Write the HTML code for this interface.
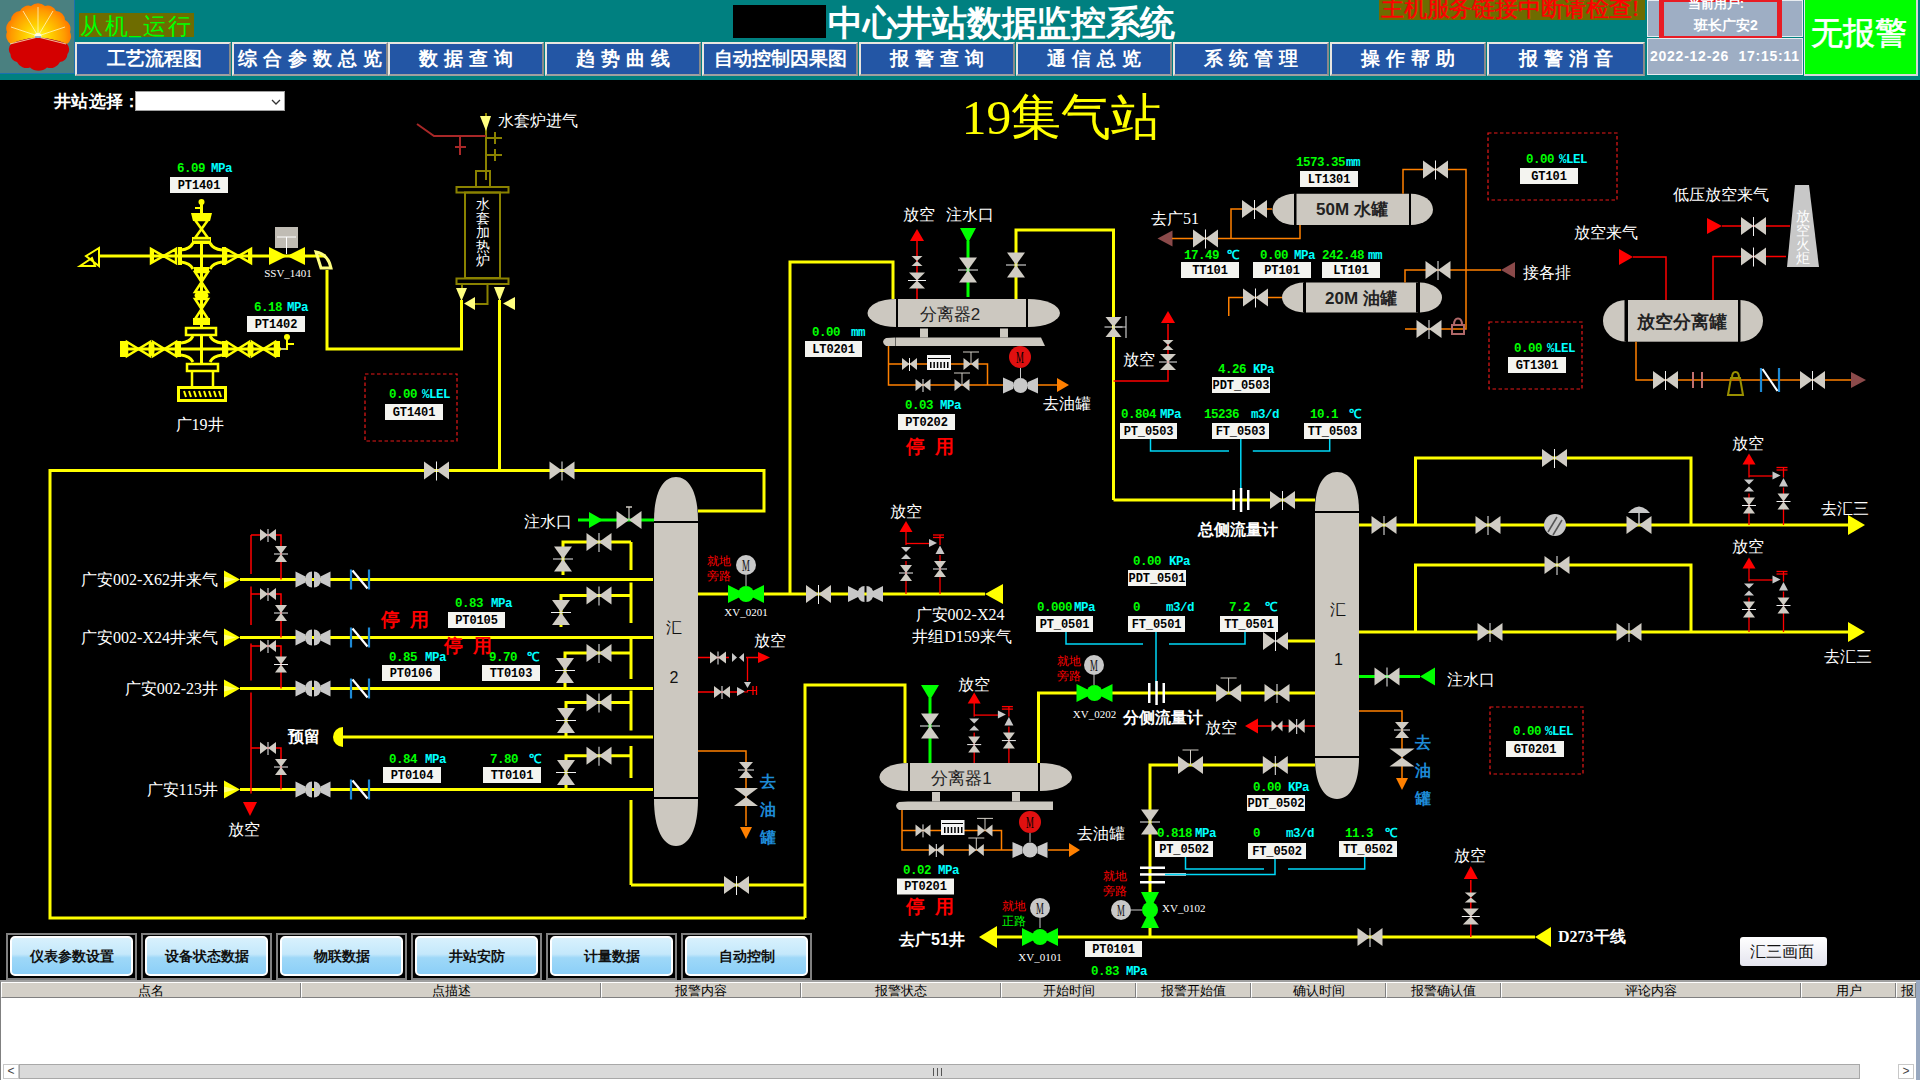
<!DOCTYPE html>
<html><head><meta charset="utf-8">
<style>
*{margin:0;padding:0;box-sizing:border-box}
html,body{width:1920px;height:1080px;overflow:hidden;background:#000;font-family:"Liberation Sans",sans-serif}
.a{position:absolute}
#hdr{left:0;top:0;width:1920px;height:80px;background:#008080}
#logo{left:0;top:0;width:75px;height:74px;background:#4a8080;border-right:1px solid #1a70b0;border-bottom:1px solid #1a70b0}
.nav{top:42px;height:34px;width:156px;background:#2356a5;border-top:2px solid #e8e6e0;border-left:2px solid #e8e6e0;border-right:2px solid #8a8a8a;border-bottom:2px solid #a0a0a0;color:#fff;font-weight:bold;font-size:19px;text-align:center;line-height:29px;white-space:nowrap;overflow:hidden}
.bb{top:933px;width:131px;height:47px;border:2px solid #808080;background:#000}
.bb div{position:absolute;left:2px;top:1px;right:2px;bottom:2px;border:2px solid #fff;border-radius:5px;background:linear-gradient(#d8f1fd 0%,#c4e8fb 45%,#9ed8f8 55%,#8ccff7 100%);color:#111;font-weight:bold;font-size:14px;text-align:center;line-height:37px}
#tbl{left:0;top:980px;width:1917px;height:100px;background:#fff;border-top:2px solid #a0a0a0;border-left:1px solid #808080}
.th{top:1px;height:15px;background:#d4d0c8;border-left:1px solid #fff;border-right:1px solid #808080;border-bottom:1px solid #808080;font-size:13px;color:#000;text-align:center;line-height:15px;white-space:nowrap;overflow:hidden}
</style></head><body>
<div id="hdr" class="a"></div>
<div id="logo" class="a">
<svg width="75" height="74" viewBox="0 0 75 74">
<defs><radialGradient id="lg" cx="38" cy="37" r="36" gradientUnits="userSpaceOnUse"><stop offset="0" stop-color="#ffff30"/><stop offset="0.35" stop-color="#ffd000"/><stop offset="0.75" stop-color="#ff9a00"/><stop offset="1" stop-color="#ff6a00"/></radialGradient></defs>
<path d="M11 44 A9.5 9.5 0 0 1 7 32 A9.5 9.5 0 0 1 11 20 A9.5 9.5 0 0 1 20 11 A9.1 9.1 0 0 1 31 6 A10.5 10.5 0 0 1 45 6 A9.1 9.1 0 0 1 56 11 A9.5 9.5 0 0 1 65 20 A9.8 9.8 0 0 1 70 32 A9.3 9.3 0 0 1 67 44 Q52 38 38 37.5 Q24 38 11 44 Z" fill="url(#lg)"/>
<path d="M11 44 Q24 38 38 37.5 Q52 38 67 44 A7.5 7.5 0 0 1 67.5 54 A8.2 8.2 0 0 1 60 62 A10.6 10.6 0 0 1 47 67.5 A12.8 12.8 0 0 1 30 67.5 A10.6 10.6 0 0 1 17 62 A7.7 7.7 0 0 1 10.5 54 A7.5 7.5 0 0 1 11 44 Z" fill="#d40000"/>
<g stroke="#fff8c8" stroke-width="0.9" opacity="0.85"><line x1="38" y1="36" x2="38" y2="7"/><line x1="38" y1="36" x2="23" y2="11"/><line x1="38" y1="36" x2="53" y2="11"/><line x1="38" y1="36" x2="11" y2="27"/><line x1="38" y1="36" x2="65" y2="27"/><line x1="36" y1="37.5" x2="10" y2="44"/><line x1="40" y1="37.5" x2="66" y2="44"/></g>
<ellipse cx="38" cy="35.5" rx="3.5" ry="2.5" fill="#fffce0"/>
<path d="M35 37 L41 37" stroke="#3070c0" stroke-width="1"/>
</svg></div>
<div class="a" style="left:79px;top:13px;width:115px;height:24px;background:#6e6c00;color:#00ff00;font-size:23px;line-height:24px;white-space:nowrap;font-family:'Liberation Serif',serif;letter-spacing:1.8px;padding-left:1px;padding-top:2px">从机_运行</div>
<div class="a" style="left:733px;top:5px;width:93px;height:33px;background:#000"></div>
<div class="a" style="left:828px;top:1px;color:#fff;font-weight:bold;font-size:35px;line-height:44px;white-space:nowrap;letter-spacing:-0.3px">中心井站数据监控系统</div>
<div class="a" style="left:1379px;top:0;width:266px;height:19.5px;background:#6e6c00;color:#ff0000;font-size:22.5px;line-height:17px;white-space:nowrap;overflow:hidden;font-family:'Liberation Serif',serif;font-weight:normal;-webkit-text-stroke:0.4px #ff0000;letter-spacing:-0.2px;padding-left:2px">主机服务链接中断请检查!</div>
<div class="nav a" style="left:75px;padding-left:2px">工艺流程图</div>
<div class="nav a" style="left:232px;letter-spacing:6px;padding-left:4px">综合参数总览</div>
<div class="nav a" style="left:388px;letter-spacing:6px;padding-left:6px">数据查询</div>
<div class="nav a" style="left:545px;letter-spacing:6px;padding-left:6px">趋势曲线</div>
<div class="nav a" style="left:702px">自动控制因果图</div>
<div class="nav a" style="left:859px;letter-spacing:6px;padding-left:6px">报警查询</div>
<div class="nav a" style="left:1016px;letter-spacing:6px;padding-left:6px">通信总览</div>
<div class="nav a" style="left:1173px;letter-spacing:6px;padding-left:6px">系统管理</div>
<div class="nav a" style="left:1330px;letter-spacing:6px;padding-left:6px">操作帮助</div>
<div class="nav a" style="left:1487px;letter-spacing:6px;width:158px;padding-left:6px">报警消音</div>
<div class="a" style="left:1647px;top:0;width:156px;height:37px;background:#9eaec4;border:1px solid #e8ecf0"></div>
<div class="a" style="left:1659px;top:-3px;width:123px;height:44px;border:5px solid #e81c24"></div>
<div class="a" style="left:1664px;top:-4px;width:112px;color:#fff;font-weight:bold;font-size:13px;line-height:15px;text-align:center;white-space:nowrap;padding-right:8px">当前用户:</div>
<div class="a" style="left:1664px;top:17px;width:112px;color:#fff;font-weight:bold;font-size:14px;line-height:16px;text-align:center;white-space:nowrap;padding-left:12px">班长广安2</div>
<div class="a" style="left:1647px;top:38px;width:156px;height:37px;background:#9eaec4;border:1px solid #e8ecf0;color:#fff;font-weight:bold;font-size:14px;line-height:35px;text-align:left;padding-left:2px;white-space:nowrap;letter-spacing:0.75px">2022-12-26&nbsp;&nbsp;17:15:11</div>
<div class="a" style="left:1804px;top:0;width:114px;height:76px;background:#00ff00;border:2px solid #d8d8d8;border-top:none;border-left:1px solid #e8e8e8;color:#fff;font-weight:normal;-webkit-text-stroke:0.6px #fff;font-size:32px;line-height:66px;text-align:center;white-space:nowrap;padding-right:4px">无报警</div>

<!-- station select -->
<div class="a" style="left:54px;top:91px;color:#fff;font-weight:bold;font-size:17px;line-height:21px;white-space:nowrap;letter-spacing:0.3px">井站选择：</div>
<div class="a" style="left:135px;top:91px;width:150px;height:20px;background:#fff;border:1px solid #a0a0a0"><svg class="a" style="left:135px;top:7px" width="10" height="6"><path d="M1 1 L5 5 L9 1" stroke="#333" fill="none" stroke-width="1.3"/></svg></div>

<svg id="dg" class="a" style="left:0;top:0" width="1920" height="1080" viewBox="0 0 1920 1080" font-family="Liberation Sans, sans-serif">
<polyline points="805,918 50,918 50,470.5 764,470.5 764,511 698,511" fill="none" stroke="#ffff00" stroke-width="3" stroke-linejoin="miter" />
<line x1="499.5" y1="470.5" x2="499.5" y2="300" stroke="#ffff00" stroke-width="3"/>
<polygon points="424,461.5 424,479.5 436.5,470.5" fill="#d0ccc4"/>
<polygon points="449,461.5 449,479.5 436.5,470.5" fill="#d0ccc4"/>
<line x1="436.5" y1="461.5" x2="436.5" y2="480.5" stroke="#f0f0f0" stroke-width="1"/>
<polygon points="549.5,461.5 549.5,479.5 562,470.5" fill="#d0ccc4"/>
<polygon points="574.5,461.5 574.5,479.5 562,470.5" fill="#d0ccc4"/>
<line x1="562" y1="461.5" x2="562" y2="480.5" stroke="#f0f0f0" stroke-width="1"/>
<text x="218" y="585" font-size="16" fill="#ffffff" font-weight="normal" text-anchor="end" font-family="Liberation Serif" >广安002-X62井来气</text>
<polygon points="224,570.5 224,588.5 240,579.5" fill="#ffff00"/>
<polygon points="224,576.5 224,582.5 236,579.5" fill="#ffff80"/>
<line x1="240" y1="579.5" x2="653" y2="579.5" stroke="#ffff00" stroke-width="3"/>
<polygon points="295.5,571.5 295.5,587.5 305.5,582.5 305.5,576.5" fill="#c8c8c8"/>
<polygon points="330.5,571.5 330.5,587.5 320.5,582.5 320.5,576.5" fill="#c8c8c8"/>
<path d="M312 571.5 A7 8 0 0 0 312 587.5 Z" fill="#c8c8c8"/>
<path d="M314 571.5 A7 8 0 0 1 314 587.5 Z" fill="#c8c8c8"/>
<line x1="351" y1="569.5" x2="351" y2="589.5" stroke="#1e8ad6" stroke-width="2.2"/>
<line x1="369" y1="569.5" x2="369" y2="589.5" stroke="#1e8ad6" stroke-width="2.2"/>
<line x1="352.5" y1="570.5" x2="367.5" y2="588.5" stroke="#ffffff" stroke-width="2.2"/>
<text x="218" y="643" font-size="16" fill="#ffffff" font-weight="normal" text-anchor="end" font-family="Liberation Serif" >广安002-X24井来气</text>
<polygon points="224,628.5 224,646.5 240,637.5" fill="#ffff00"/>
<polygon points="224,634.5 224,640.5 236,637.5" fill="#ffff80"/>
<line x1="240" y1="637.5" x2="653" y2="637.5" stroke="#ffff00" stroke-width="3"/>
<polygon points="295.5,629.5 295.5,645.5 305.5,640.5 305.5,634.5" fill="#c8c8c8"/>
<polygon points="330.5,629.5 330.5,645.5 320.5,640.5 320.5,634.5" fill="#c8c8c8"/>
<path d="M312 629.5 A7 8 0 0 0 312 645.5 Z" fill="#c8c8c8"/>
<path d="M314 629.5 A7 8 0 0 1 314 645.5 Z" fill="#c8c8c8"/>
<line x1="351" y1="627.5" x2="351" y2="647.5" stroke="#1e8ad6" stroke-width="2.2"/>
<line x1="369" y1="627.5" x2="369" y2="647.5" stroke="#1e8ad6" stroke-width="2.2"/>
<line x1="352.5" y1="628.5" x2="367.5" y2="646.5" stroke="#ffffff" stroke-width="2.2"/>
<text x="218" y="694" font-size="16" fill="#ffffff" font-weight="normal" text-anchor="end" font-family="Liberation Serif" >广安002-23井</text>
<polygon points="224,679.5 224,697.5 240,688.5" fill="#ffff00"/>
<polygon points="224,685.5 224,691.5 236,688.5" fill="#ffff80"/>
<line x1="240" y1="688.5" x2="653" y2="688.5" stroke="#ffff00" stroke-width="3"/>
<polygon points="295.5,680.5 295.5,696.5 305.5,691.5 305.5,685.5" fill="#c8c8c8"/>
<polygon points="330.5,680.5 330.5,696.5 320.5,691.5 320.5,685.5" fill="#c8c8c8"/>
<path d="M312 680.5 A7 8 0 0 0 312 696.5 Z" fill="#c8c8c8"/>
<path d="M314 680.5 A7 8 0 0 1 314 696.5 Z" fill="#c8c8c8"/>
<line x1="351" y1="678.5" x2="351" y2="698.5" stroke="#1e8ad6" stroke-width="2.2"/>
<line x1="369" y1="678.5" x2="369" y2="698.5" stroke="#1e8ad6" stroke-width="2.2"/>
<line x1="352.5" y1="679.5" x2="367.5" y2="697.5" stroke="#ffffff" stroke-width="2.2"/>
<text x="218" y="795" font-size="16" fill="#ffffff" font-weight="normal" text-anchor="end" font-family="Liberation Serif" >广安115井</text>
<polygon points="224,780.5 224,798.5 240,789.5" fill="#ffff00"/>
<polygon points="224,786.5 224,792.5 236,789.5" fill="#ffff80"/>
<line x1="240" y1="789.5" x2="653" y2="789.5" stroke="#ffff00" stroke-width="3"/>
<polygon points="295.5,781.5 295.5,797.5 305.5,792.5 305.5,786.5" fill="#c8c8c8"/>
<polygon points="330.5,781.5 330.5,797.5 320.5,792.5 320.5,786.5" fill="#c8c8c8"/>
<path d="M312 781.5 A7 8 0 0 0 312 797.5 Z" fill="#c8c8c8"/>
<path d="M314 781.5 A7 8 0 0 1 314 797.5 Z" fill="#c8c8c8"/>
<line x1="351" y1="779.5" x2="351" y2="799.5" stroke="#1e8ad6" stroke-width="2.2"/>
<line x1="369" y1="779.5" x2="369" y2="799.5" stroke="#1e8ad6" stroke-width="2.2"/>
<line x1="352.5" y1="780.5" x2="367.5" y2="798.5" stroke="#ffffff" stroke-width="2.2"/>
<line x1="251" y1="535" x2="251" y2="574" stroke="#ff0000" stroke-width="1.5"/>
<polyline points="251,535 281,535 281,579.5" fill="none" stroke="#ff0000" stroke-width="1.5" stroke-linejoin="miter" />
<polygon points="260,529 260,541 268,535" fill="#d0ccc4"/>
<polygon points="276,529 276,541 268,535" fill="#d0ccc4"/>
<line x1="268" y1="529" x2="268" y2="542" stroke="#f0f0f0" stroke-width="1"/>
<polygon points="275,546 287,546 281,554" fill="#d0ccc4"/>
<polygon points="275,562 287,562 281,554" fill="#d0ccc4"/>
<line x1="274" y1="554" x2="288" y2="554" stroke="#f0f0f0" stroke-width="1"/>
<line x1="251" y1="586.5" x2="251" y2="625" stroke="#ff0000" stroke-width="1.5"/>
<polyline points="251,594 281,594 281,637.5" fill="none" stroke="#ff0000" stroke-width="1.5" stroke-linejoin="miter" />
<polygon points="260,588 260,600 268,594" fill="#d0ccc4"/>
<polygon points="276,588 276,600 268,594" fill="#d0ccc4"/>
<line x1="268" y1="588" x2="268" y2="601" stroke="#f0f0f0" stroke-width="1"/>
<polygon points="275,605 287,605 281,613" fill="#d0ccc4"/>
<polygon points="275,621 287,621 281,613" fill="#d0ccc4"/>
<line x1="274" y1="613" x2="288" y2="613" stroke="#f0f0f0" stroke-width="1"/>
<line x1="251" y1="643.5" x2="251" y2="680.5" stroke="#ff0000" stroke-width="1.5"/>
<polyline points="251,646 281,646 281,688.5" fill="none" stroke="#ff0000" stroke-width="1.5" stroke-linejoin="miter" />
<polygon points="260,640 260,652 268,646" fill="#d0ccc4"/>
<polygon points="276,640 276,652 268,646" fill="#d0ccc4"/>
<line x1="268" y1="640" x2="268" y2="653" stroke="#f0f0f0" stroke-width="1"/>
<polygon points="275,656.5 287,656.5 281,664.5" fill="#d0ccc4"/>
<polygon points="275,672.5 287,672.5 281,664.5" fill="#d0ccc4"/>
<line x1="274" y1="664.5" x2="288" y2="664.5" stroke="#f0f0f0" stroke-width="1"/>
<line x1="251" y1="692.5" x2="251" y2="793.5" stroke="#ff0000" stroke-width="1.5"/>
<polyline points="251,748 281,748 281,789.5" fill="none" stroke="#ff0000" stroke-width="1.5" stroke-linejoin="miter" />
<polygon points="260,742 260,754 268,748" fill="#d0ccc4"/>
<polygon points="276,742 276,754 268,748" fill="#d0ccc4"/>
<line x1="268" y1="742" x2="268" y2="755" stroke="#f0f0f0" stroke-width="1"/>
<polygon points="275,759 287,759 281,767" fill="#d0ccc4"/>
<polygon points="275,775 287,775 281,767" fill="#d0ccc4"/>
<line x1="274" y1="767" x2="288" y2="767" stroke="#f0f0f0" stroke-width="1"/>
<polygon points="250,816 243,802 257,802" fill="#ff0000"/>
<text x="244" y="834.5" font-size="16" fill="#ffffff" font-weight="normal" text-anchor="middle" font-family="Liberation Serif" >放空</text>
<text x="304" y="741.5" font-size="16" fill="#ffffff" font-weight="bold" text-anchor="middle" font-family="Liberation Serif" >预留</text>
<path d="M343 727 A10 10 0 0 0 343 747 Z" fill="#ffff00"/>
<line x1="343" y1="737" x2="653" y2="737" stroke="#ffff00" stroke-width="3"/>
<polyline points="563,575 563,542 631,542" fill="none" stroke="#ffff00" stroke-width="3" stroke-linejoin="miter" />
<line x1="631" y1="542" x2="631" y2="570" stroke="#ffff00" stroke-width="3"/>
<polygon points="554,546.5 572,546.5 563,559" fill="#d0ccc4"/>
<polygon points="554,571.5 572,571.5 563,559" fill="#d0ccc4"/>
<line x1="553" y1="559" x2="573" y2="559" stroke="#f0f0f0" stroke-width="1"/>
<polygon points="586.5,533 586.5,551 599,542" fill="#d0ccc4"/>
<polygon points="611.5,533 611.5,551 599,542" fill="#d0ccc4"/>
<line x1="599" y1="533" x2="599" y2="552" stroke="#f0f0f0" stroke-width="1"/>
<polyline points="561,627 561,595.5 631,595.5" fill="none" stroke="#ffff00" stroke-width="3" stroke-linejoin="miter" />
<line x1="631" y1="582.5" x2="631" y2="623" stroke="#ffff00" stroke-width="3"/>
<polygon points="552,600 570,600 561,612.5" fill="#d0ccc4"/>
<polygon points="552,625 570,625 561,612.5" fill="#d0ccc4"/>
<line x1="551" y1="612.5" x2="571" y2="612.5" stroke="#f0f0f0" stroke-width="1"/>
<polygon points="586.5,586.5 586.5,604.5 599,595.5" fill="#d0ccc4"/>
<polygon points="611.5,586.5 611.5,604.5 599,595.5" fill="#d0ccc4"/>
<line x1="599" y1="586.5" x2="599" y2="605.5" stroke="#f0f0f0" stroke-width="1"/>
<polyline points="565,688.5 565,653 631,653" fill="none" stroke="#ffff00" stroke-width="3" stroke-linejoin="miter" />
<line x1="631" y1="638" x2="631" y2="679" stroke="#ffff00" stroke-width="3"/>
<polygon points="556,658 574,658 565,670.5" fill="#d0ccc4"/>
<polygon points="556,683 574,683 565,670.5" fill="#d0ccc4"/>
<line x1="555" y1="670.5" x2="575" y2="670.5" stroke="#f0f0f0" stroke-width="1"/>
<polygon points="586.5,644 586.5,662 599,653" fill="#d0ccc4"/>
<polygon points="611.5,644 611.5,662 599,653" fill="#d0ccc4"/>
<line x1="599" y1="644" x2="599" y2="663" stroke="#f0f0f0" stroke-width="1"/>
<polyline points="566,737 566,702.5 631,702.5" fill="none" stroke="#ffff00" stroke-width="3" stroke-linejoin="miter" />
<line x1="631" y1="690.5" x2="631" y2="730.5" stroke="#ffff00" stroke-width="3"/>
<polygon points="557,708 575,708 566,720.5" fill="#d0ccc4"/>
<polygon points="557,733 575,733 566,720.5" fill="#d0ccc4"/>
<line x1="556" y1="720.5" x2="576" y2="720.5" stroke="#f0f0f0" stroke-width="1"/>
<polygon points="586.5,693.5 586.5,711.5 599,702.5" fill="#d0ccc4"/>
<polygon points="611.5,693.5 611.5,711.5 599,702.5" fill="#d0ccc4"/>
<line x1="599" y1="693.5" x2="599" y2="712.5" stroke="#f0f0f0" stroke-width="1"/>
<polyline points="566,789.5 566,755.75 631,755.75" fill="none" stroke="#ffff00" stroke-width="3" stroke-linejoin="miter" />
<line x1="631" y1="746" x2="631" y2="778" stroke="#ffff00" stroke-width="3"/>
<polygon points="557,760 575,760 566,772.5" fill="#d0ccc4"/>
<polygon points="557,785 575,785 566,772.5" fill="#d0ccc4"/>
<line x1="556" y1="772.5" x2="576" y2="772.5" stroke="#f0f0f0" stroke-width="1"/>
<polygon points="586.5,746.75 586.5,764.75 599,755.75" fill="#d0ccc4"/>
<polygon points="611.5,746.75 611.5,764.75 599,755.75" fill="#d0ccc4"/>
<line x1="599" y1="746.75" x2="599" y2="765.75" stroke="#f0f0f0" stroke-width="1"/>
<line x1="631" y1="800" x2="631" y2="885" stroke="#ffff00" stroke-width="3"/>
<polyline points="631,885 805,885" fill="none" stroke="#ffff00" stroke-width="3" stroke-linejoin="miter" />
<polygon points="724,876 724,894 736.5,885" fill="#d0ccc4"/>
<polygon points="749,876 749,894 736.5,885" fill="#d0ccc4"/>
<line x1="736.5" y1="876" x2="736.5" y2="895" stroke="#f0f0f0" stroke-width="1"/>
<polyline points="805,918 805,685 905,685 905,763" fill="none" stroke="#ffff00" stroke-width="3" stroke-linejoin="miter" />
<path d="M654 521 C654 492.4 662.8 477 676 477 C689.2 477 698 492.4 698 521 Z" fill="#ccc8c0"/>
<rect x="654" y="523" width="44" height="274" fill="#ccc8c0" />
<path d="M654 799 C654 828.85 662.8 846 676 846 C689.2 846 698 828.85 698 799 Z" fill="#ccc8c0"/>
<text x="674" y="633" font-size="16" fill="#111" font-weight="normal" text-anchor="middle" font-family="Liberation Sans" >汇</text>
<text x="674" y="683" font-size="16" fill="#111" font-weight="normal" text-anchor="middle" font-family="Liberation Sans" >2</text>
<text x="405" y="626" font-size="18.5" fill="#ff0000" font-weight="bold" text-anchor="middle" font-family="Liberation Sans" xml:space="preserve">停  用</text>
<text x="455" y="606.8" font-size="12.5" fill="#00ff00" font-weight="bold" text-anchor="start" font-family="Liberation Mono" letter-spacing="-0.5">0.83</text>
<text x="491" y="606.8" font-size="12.5" fill="#00ffff" font-weight="bold" text-anchor="start" font-family="Liberation Mono" letter-spacing="-0.5">MPa</text>
<rect x="448" y="612" width="57" height="16" fill="#f4f4f0" />
<text x="476.5" y="623.5" font-size="12" fill="#000" font-weight="bold" text-anchor="middle" font-family="Liberation Mono" letter-spacing="-0.1">PT0105</text>
<text x="389" y="660.8" font-size="12.5" fill="#00ff00" font-weight="bold" text-anchor="start" font-family="Liberation Mono" letter-spacing="-0.5">0.85</text>
<text x="425" y="660.8" font-size="12.5" fill="#00ffff" font-weight="bold" text-anchor="start" font-family="Liberation Mono" letter-spacing="-0.5">MPa</text>
<rect x="382" y="665" width="58" height="16" fill="#f4f4f0" />
<text x="411" y="676.5" font-size="12" fill="#000" font-weight="bold" text-anchor="middle" font-family="Liberation Mono" letter-spacing="-0.1">PT0106</text>
<text x="468" y="652" font-size="18.5" fill="#ff0000" font-weight="bold" text-anchor="middle" font-family="Liberation Sans" xml:space="preserve">停  用</text>
<text x="489" y="660.8" font-size="12.5" fill="#00ff00" font-weight="bold" text-anchor="start" font-family="Liberation Mono" letter-spacing="-0.5">9.70</text>
<text x="527" y="660.8" font-size="12.5" fill="#00ffff" font-weight="bold" text-anchor="start" font-family="Liberation Mono" letter-spacing="-0.5">℃</text>
<rect x="482" y="665" width="58" height="16" fill="#f4f4f0" />
<text x="511" y="676.5" font-size="12" fill="#000" font-weight="bold" text-anchor="middle" font-family="Liberation Mono" letter-spacing="-0.1">TT0103</text>
<text x="389" y="762.8" font-size="12.5" fill="#00ff00" font-weight="bold" text-anchor="start" font-family="Liberation Mono" letter-spacing="-0.5">0.84</text>
<text x="425" y="762.8" font-size="12.5" fill="#00ffff" font-weight="bold" text-anchor="start" font-family="Liberation Mono" letter-spacing="-0.5">MPa</text>
<rect x="383" y="767" width="58" height="16" fill="#f4f4f0" />
<text x="412" y="778.5" font-size="12" fill="#000" font-weight="bold" text-anchor="middle" font-family="Liberation Mono" letter-spacing="-0.1">PT0104</text>
<text x="490" y="762.8" font-size="12.5" fill="#00ff00" font-weight="bold" text-anchor="start" font-family="Liberation Mono" letter-spacing="-0.5">7.80</text>
<text x="529" y="762.8" font-size="12.5" fill="#00ffff" font-weight="bold" text-anchor="start" font-family="Liberation Mono" letter-spacing="-0.5">℃</text>
<rect x="483" y="767" width="58" height="16" fill="#f4f4f0" />
<text x="512" y="778.5" font-size="12" fill="#000" font-weight="bold" text-anchor="middle" font-family="Liberation Mono" letter-spacing="-0.1">TT0101</text>
<text x="548" y="526.5" font-size="16" fill="#ffffff" font-weight="normal" text-anchor="middle" font-family="Liberation Sans" >注水口</text>
<line x1="578" y1="520" x2="654" y2="520" stroke="#00ff00" stroke-width="3"/>
<polygon points="589,512 589,528 603,520" fill="#00ff00"/>
<polygon points="616.5,511 616.5,529 629,520" fill="#d0ccc4"/>
<polygon points="641.5,511 641.5,529 629,520" fill="#d0ccc4"/>
<line x1="629" y1="507" x2="629" y2="520" stroke="#d0ccc4" stroke-width="1.2"/>
<line x1="626" y1="507" x2="632" y2="507" stroke="#d0ccc4" stroke-width="1.5"/>
<line x1="698" y1="594" x2="985" y2="594" stroke="#ffff00" stroke-width="3"/>
<polygon points="985,594 1003,584 1003,604" fill="#ffff00"/>
<polyline points="790,594 790,262 893,262 893,299" fill="none" stroke="#ffff00" stroke-width="3" stroke-linejoin="miter" />
<polygon points="728,585 728,603 739,597.5 739,590.5" fill="#00ff00"/>
<polygon points="764,585 764,603 753,597.5 753,590.5" fill="#00ff00"/>
<circle cx="746" cy="594" r="8" fill="#00ff00" />
<line x1="746" y1="575" x2="746" y2="586" stroke="#c8c8c8" stroke-width="1"/>
<circle cx="746" cy="565" r="10" fill="#c8c8c8" />
<text x="746" y="571" font-size="16" fill="#111" font-weight="normal" text-anchor="middle" font-family="Liberation Serif" transform="translate(746,0) scale(0.55,1) translate(-746,0)">M</text>
<text x="719" y="565" font-size="12" fill="#ff0000" font-weight="normal" text-anchor="middle" font-family="Liberation Sans" >就地</text>
<text x="719" y="580" font-size="12" fill="#ff0000" font-weight="normal" text-anchor="middle" font-family="Liberation Sans" >旁路</text>
<text x="746" y="616" font-size="11" fill="#ffffff" font-weight="normal" text-anchor="middle" font-family="Liberation Serif" >XV_0201</text>
<polygon points="806,585 806,603 818.5,594" fill="#d0ccc4"/>
<polygon points="831,585 831,603 818.5,594" fill="#d0ccc4"/>
<line x1="818.5" y1="585" x2="818.5" y2="604" stroke="#f0f0f0" stroke-width="1"/>
<polygon points="848,586 848,602 858,597 858,591" fill="#c8c8c8"/>
<polygon points="883,586 883,602 873,597 873,591" fill="#c8c8c8"/>
<path d="M864.5 586 A7 8 0 0 0 864.5 602 Z" fill="#c8c8c8"/>
<path d="M866.5 586 A7 8 0 0 1 866.5 602 Z" fill="#c8c8c8"/>
<line x1="906" y1="594" x2="906" y2="531" stroke="#ff0000" stroke-width="1.3"/>
<polygon points="906,521 899.5,532 912.5,532" fill="#ff0000"/>
<line x1="906" y1="543.5" x2="929" y2="543.5" stroke="#ff0000" stroke-width="1.3"/>
<rect x="901" y="545" width="10" height="16" fill="#000" />
<polygon points="901,547 911,547 906,552" fill="#c8c8c8"/>
<polygon points="901,559 911,559 906,554" fill="#c8c8c8"/>
<polygon points="900,565 912,565 906,573" fill="#d0ccc4"/>
<polygon points="900,581 912,581 906,573" fill="#d0ccc4"/>
<line x1="899" y1="573" x2="913" y2="573" stroke="#f0f0f0" stroke-width="1"/>
<line x1="940" y1="594" x2="940" y2="535" stroke="#ff0000" stroke-width="1.3"/>
<rect x="935" y="545" width="10" height="10" fill="#000" />
<line x1="933" y1="535" x2="944" y2="535" stroke="#ff0000" stroke-width="1.3"/>
<line x1="933" y1="537.5" x2="944" y2="537.5" stroke="#ff0000" stroke-width="1.3"/>
<polygon points="929,539 929,547 937,543" fill="#c8c8c8"/>
<polygon points="935.5,554 944.5,554 940,545.5" fill="#c8c8c8"/>
<polygon points="934,561 946,561 940,569" fill="#d0ccc4"/>
<polygon points="934,577 946,577 940,569" fill="#d0ccc4"/>
<line x1="933" y1="569" x2="947" y2="569" stroke="#f0f0f0" stroke-width="1"/>
<text x="906" y="516.5" font-size="16" fill="#ffffff" font-weight="normal" text-anchor="middle" font-family="Liberation Sans" >放空</text>
<text x="960" y="619.5" font-size="16" fill="#ffffff" font-weight="normal" text-anchor="middle" font-family="Liberation Serif" >广安002-X24</text>
<text x="962" y="641.5" font-size="16" fill="#ffffff" font-weight="normal" text-anchor="middle" font-family="Liberation Serif" >井组D159来气</text>
<line x1="698" y1="657.5" x2="758" y2="657.5" stroke="#ff0000" stroke-width="1.3"/>
<polygon points="710,651.5 710,663.5 718,657.5" fill="#d0ccc4"/>
<polygon points="726,651.5 726,663.5 718,657.5" fill="#d0ccc4"/>
<line x1="718" y1="651.5" x2="718" y2="664.5" stroke="#f0f0f0" stroke-width="1"/>
<rect x="729" y="652" width="17" height="11" fill="#000" />
<polygon points="732,653 732,662 737,657.5" fill="#c8c8c8"/>
<polygon points="744,653 744,662 739,657.5" fill="#c8c8c8"/>
<polygon points="770,657.5 758,652 758,663" fill="#ff0000"/>
<text x="770" y="645.5" font-size="16" fill="#ffffff" font-weight="normal" text-anchor="middle" font-family="Liberation Sans" >放空</text>
<line x1="747.5" y1="657.5" x2="747.5" y2="681" stroke="#ff0000" stroke-width="1.3"/>
<line x1="698" y1="692" x2="737" y2="692" stroke="#ff0000" stroke-width="1.3"/>
<polygon points="714,686 714,698 722,692" fill="#d0ccc4"/>
<polygon points="730,686 730,698 722,692" fill="#d0ccc4"/>
<line x1="722" y1="686" x2="722" y2="699" stroke="#f0f0f0" stroke-width="1"/>
<polygon points="737,687 737,696 745,691.5" fill="#c8c8c8"/>
<polygon points="744,682 751,682 747.5,688" fill="#c8c8c8"/>
<polyline points="744,692 747.5,692 747.5,690.5 757,690.5" fill="none" stroke="#ff0000" stroke-width="1.2" stroke-linejoin="miter" />
<line x1="753" y1="686" x2="753" y2="695" stroke="#ff0000" stroke-width="1.3"/>
<line x1="756.5" y1="686" x2="756.5" y2="695" stroke="#ff0000" stroke-width="1.3"/>
<polyline points="698,751 746,751 746,826" fill="none" stroke="#ff8000" stroke-width="1.5" stroke-linejoin="miter" />
<polygon points="739,762 753,762 746,770" fill="#d0ccc4"/>
<polygon points="739,778 753,778 746,770" fill="#d0ccc4"/>
<line x1="738" y1="770" x2="754" y2="770" stroke="#f0f0f0" stroke-width="1"/>
<polygon points="734,788 758,788 746,797" fill="#d0ccc4"/>
<polygon points="734,806 758,806 746,797" fill="#d0ccc4"/>
<polygon points="746,839 740,827 752,827" fill="#ff8000"/>
<text x="768" y="786.5" font-size="16" fill="#1e8ad6" font-weight="bold" text-anchor="middle" font-family="Liberation Sans" >去</text>
<text x="768" y="814.5" font-size="16" fill="#1e8ad6" font-weight="bold" text-anchor="middle" font-family="Liberation Sans" >油</text>
<text x="768" y="842.5" font-size="16" fill="#1e8ad6" font-weight="bold" text-anchor="middle" font-family="Liberation Sans" >罐</text>
<text x="1061.5" y="133.5" font-size="49.5" fill="#ffff00" font-weight="normal" text-anchor="middle" font-family="Liberation Serif" >19集气站</text>
<text x="177" y="171.8" font-size="12.5" fill="#00ff00" font-weight="bold" text-anchor="start" font-family="Liberation Mono" letter-spacing="-0.5">6.09</text>
<text x="211" y="171.8" font-size="12.5" fill="#00ffff" font-weight="bold" text-anchor="start" font-family="Liberation Mono" letter-spacing="-0.5">MPa</text>
<rect x="170" y="177" width="58" height="16" fill="#f4f4f0" />
<text x="199" y="188.5" font-size="12" fill="#000" font-weight="bold" text-anchor="middle" font-family="Liberation Mono" letter-spacing="-0.1">PT1401</text>
<circle cx="201.5" cy="202" r="3" fill="#ffff00" />
<line x1="201.5" y1="202" x2="201.5" y2="214" stroke="#ffff00" stroke-width="3"/>
<line x1="195" y1="208" x2="201.5" y2="208" stroke="#ffff00" stroke-width="2"/>
<polygon points="191,213 212,213 210,221 193,221" fill="#ffff00"/>
<path d="M195 220 L208 220 L201.5 229 Z M195 238 L208 238 L201.5 229 Z" fill="none" stroke="#ffff00" stroke-width="2.5"/>
<rect x="192" y="237" width="19" height="7" fill="#ffff00" />
<line x1="193" y1="240" x2="210" y2="240" stroke="#000" stroke-width="1"/>
<line x1="201.5" y1="244" x2="201.5" y2="327" stroke="#ffff00" stroke-width="3"/>
<line x1="99" y1="256" x2="326" y2="256" stroke="#ffff00" stroke-width="3"/>
<path d="M193 243 Q 190 249 181 250 M210 243 Q 213 249 222 250 M193 269 Q 190 263 181 262 M210 269 Q 213 263 222 262" stroke="#ffff00" stroke-width="3" fill="none"/>
<rect x="178" y="247" width="4" height="18" fill="#ffff00" />
<rect x="222" y="247" width="4" height="18" fill="#ffff00" />
<path d="M151 249 L151 263 L163.5 256 Z M176 249 L176 263 L163.5 256 Z" fill="none" stroke="#ffff00" stroke-width="2.5"/>
<rect x="150" y="249" width="4" height="14" fill="#ffff00" />
<path d="M226 249 L226 263 L238.5 256 Z M251 249 L251 263 L238.5 256 Z" fill="none" stroke="#ffff00" stroke-width="2.5"/>
<rect x="248" y="249" width="4" height="14" fill="#ffff00" />
<rect x="194" y="267" width="15" height="5" fill="#ffff00" />
<path d="M195 272 L208 272 L201.5 282 Z M195 292 L208 292 L201.5 282 Z" fill="none" stroke="#ffff00" stroke-width="2.5"/>
<ellipse cx="201.5" cy="295.5" rx="7" ry="4.5" fill="#ffff00"/>
<path d="M195 299 L208 299 L201.5 309 Z M195 319 L208 319 L201.5 309 Z" fill="none" stroke="#ffff00" stroke-width="2.5"/>
<rect x="193" y="318" width="17" height="7" fill="#ffff00" />
<rect x="186" y="328" width="30" height="7" fill="none" stroke="#ffff00" stroke-width="2.5"/>
<path d="M99 248 L99 266 L86 256 Z M80 266 L92 258 L95 266 Z" fill="none" stroke="#ffff00" stroke-width="2"/>
<polygon points="269,247 269,265 287,256" fill="#ffff00"/>
<polygon points="305,247 305,265 287,256" fill="#ffff00"/>
<rect x="275" y="227" width="23" height="21" fill="#c0bcb4" />
<line x1="277" y1="237" x2="296" y2="237" stroke="#fff" stroke-width="1"/>
<line x1="286.5" y1="237" x2="286.5" y2="254" stroke="#fff" stroke-width="1"/>
<text x="288" y="277" font-size="11" fill="#ffffff" font-weight="normal" text-anchor="middle" font-family="Liberation Serif" >SSV_1401</text>
<path d="M316 252 Q 328 254 331 268 L 321 268 Z" fill="none" stroke="#ffff80" stroke-width="3"/>
<polyline points="327,270 327,349 461.5,349 461.5,300" fill="none" stroke="#ffff00" stroke-width="3" stroke-linejoin="miter" />
<line x1="120" y1="349" x2="281" y2="349" stroke="#ffff00" stroke-width="3"/>
<path d="M193 336 Q 190 342 181 343 M210 336 Q 213 342 222 343 M193 362 Q 190 356 181 355 M210 362 Q 213 356 222 355" stroke="#ffff00" stroke-width="3" fill="none"/>
<line x1="201.5" y1="335" x2="201.5" y2="363" stroke="#ffff00" stroke-width="3"/>
<path d="M127 342 L127 356 L138.5 349 Z M150 342 L150 356 L138.5 349 Z" fill="none" stroke="#ffff00" stroke-width="2.5"/>
<path d="M153 342 L153 356 L164.5 349 Z M176 342 L176 356 L164.5 349 Z" fill="none" stroke="#ffff00" stroke-width="2.5"/>
<rect x="120" y="341" width="7" height="16" fill="#ffff00" />
<ellipse cx="151.5" cy="349" rx="3" ry="7" fill="#ffff00"/>
<rect x="176" y="341" width="5" height="16" fill="#ffff00" />
<path d="M227 342 L227 356 L238 349 Z M249 342 L249 356 L238 349 Z" fill="none" stroke="#ffff00" stroke-width="2.5"/>
<path d="M252 342 L252 356 L263.5 349 Z M275 342 L275 356 L263.5 349 Z" fill="none" stroke="#ffff00" stroke-width="2.5"/>
<rect x="222" y="341" width="5" height="16" fill="#ffff00" />
<ellipse cx="250.5" cy="349" rx="3" ry="7" fill="#ffff00"/>
<rect x="275" y="341" width="5" height="16" fill="#ffff00" />
<line x1="281" y1="349" x2="286" y2="349" stroke="#c0c080" stroke-width="2"/>
<circle cx="287" cy="337" r="3" fill="#ffff00" />
<line x1="287" y1="337" x2="287" y2="350" stroke="#ffff00" stroke-width="2"/>
<line x1="287" y1="344" x2="294" y2="344" stroke="#ffff00" stroke-width="2"/>
<text x="254" y="310.8" font-size="12.5" fill="#00ff00" font-weight="bold" text-anchor="start" font-family="Liberation Mono" letter-spacing="-0.5">6.18</text>
<text x="287" y="310.8" font-size="12.5" fill="#00ffff" font-weight="bold" text-anchor="start" font-family="Liberation Mono" letter-spacing="-0.5">MPa</text>
<rect x="247" y="316" width="58" height="16" fill="#f4f4f0" />
<text x="276" y="327.5" font-size="12" fill="#000" font-weight="bold" text-anchor="middle" font-family="Liberation Mono" letter-spacing="-0.1">PT1402</text>
<rect x="187" y="364" width="31" height="7" fill="none" stroke="#ffff00" stroke-width="2.5"/>
<line x1="192" y1="371" x2="192" y2="386" stroke="#ffff00" stroke-width="2.5"/>
<line x1="213" y1="371" x2="213" y2="386" stroke="#ffff00" stroke-width="2.5"/>
<rect x="178.5" y="387.5" width="47" height="13" fill="none" stroke="#ffff00" stroke-width="3"/>
<path d="M184 391 L186 397" stroke="#ffff00" stroke-width="2"/>
<path d="M189 391 L191 397" stroke="#ffff00" stroke-width="2"/>
<path d="M194 391 L196 397" stroke="#ffff00" stroke-width="2"/>
<path d="M199 391 L201 397" stroke="#ffff00" stroke-width="2"/>
<path d="M204 391 L206 397" stroke="#ffff00" stroke-width="2"/>
<path d="M209 391 L211 397" stroke="#ffff00" stroke-width="2"/>
<path d="M214 391 L216 397" stroke="#ffff00" stroke-width="2"/>
<path d="M219 391 L221 397" stroke="#ffff00" stroke-width="2"/>
<text x="199.5" y="429.5" font-size="16" fill="#ffffff" font-weight="normal" text-anchor="middle" font-family="Liberation Serif" >广19井</text>
<rect x="456.5" y="187" width="52" height="5.5" fill="none" stroke="#8a8200" stroke-width="2"/>
<rect x="465" y="192.5" width="35" height="85.5" fill="none" stroke="#8a8200" stroke-width="2"/>
<rect x="456.5" y="278.5" width="52" height="5.5" fill="none" stroke="#8a8200" stroke-width="2"/>
<rect x="476" y="171" width="14" height="16" fill="none" stroke="#8a8200" stroke-width="2"/>
<line x1="486" y1="113" x2="486" y2="180" stroke="#8a8200" stroke-width="2"/>
<polygon points="480,116 491,116 486,131" fill="#ffff80"/>
<text x="498" y="125.5" font-size="16" fill="#ffffff" font-weight="normal" text-anchor="start" font-family="Liberation Serif" >水套炉进气</text>
<polyline points="417,124 434,136 486,136" fill="none" stroke="#a82828" stroke-width="2" stroke-linejoin="miter" />
<line x1="460" y1="136" x2="460" y2="155" stroke="#a82828" stroke-width="2"/>
<line x1="455" y1="147" x2="466" y2="147" stroke="#a82828" stroke-width="2"/>
<line x1="486" y1="138" x2="502" y2="138" stroke="#8a8200" stroke-width="2"/>
<line x1="495" y1="132" x2="495" y2="144" stroke="#8a8200" stroke-width="2"/>
<line x1="486" y1="155" x2="502" y2="155" stroke="#8a8200" stroke-width="2"/>
<line x1="495" y1="149" x2="495" y2="161" stroke="#8a8200" stroke-width="2"/>
<text x="483" y="209" font-size="14" fill="#ffffff" font-weight="normal" text-anchor="middle" font-family="Liberation Serif" >水</text>
<text x="483" y="223" font-size="14" fill="#ffffff" font-weight="normal" text-anchor="middle" font-family="Liberation Serif" >套</text>
<text x="483" y="237" font-size="14" fill="#ffffff" font-weight="normal" text-anchor="middle" font-family="Liberation Serif" >加</text>
<text x="483" y="251" font-size="14" fill="#ffffff" font-weight="normal" text-anchor="middle" font-family="Liberation Serif" >热</text>
<text x="483" y="265" font-size="14" fill="#ffffff" font-weight="normal" text-anchor="middle" font-family="Liberation Serif" >炉</text>
<polyline points="487.5,284 487.5,304 475,304" fill="none" stroke="#8a8200" stroke-width="2" stroke-linejoin="miter" />
<line x1="462" y1="284" x2="462" y2="292" stroke="#8a8200" stroke-width="2"/>
<polygon points="456,288 467,288 461.5,301" fill="#ffff80"/>
<polygon points="475,297 475,310 464,303.5" fill="#ffff80"/>
<polygon points="494,287 505,287 499.5,301" fill="#ffff80"/>
<polygon points="515,297 515,310 503,303.5" fill="#ffff80"/>
<line x1="461.5" y1="300" x2="461.5" y2="349" stroke="#ffff00" stroke-width="3"/>
<line x1="499.5" y1="300" x2="499.5" y2="470.5" stroke="#ffff00" stroke-width="3"/>
<rect x="365" y="374" width="92" height="67" fill="none" stroke="#e81818" stroke-width="1.2" stroke-dasharray="3.5,2.5"/>
<text x="389" y="397.8" font-size="12.5" fill="#00ff00" font-weight="bold" text-anchor="start" font-family="Liberation Mono" letter-spacing="-0.5">0.00</text>
<text x="422" y="397.8" font-size="12.5" fill="#00ffff" font-weight="bold" text-anchor="start" font-family="Liberation Mono" letter-spacing="-0.5">%LEL</text>
<rect x="385" y="404" width="58" height="16" fill="#f4f4f0" />
<text x="414" y="415.5" font-size="12" fill="#000" font-weight="bold" text-anchor="middle" font-family="Liberation Mono" letter-spacing="-0.1">GT1401</text>
<rect x="1488" y="133" width="129" height="67" fill="none" stroke="#e81818" stroke-width="1.2" stroke-dasharray="3.5,2.5"/>
<text x="1526" y="162.8" font-size="12.5" fill="#00ff00" font-weight="bold" text-anchor="start" font-family="Liberation Mono" letter-spacing="-0.5">0.00</text>
<text x="1559" y="162.8" font-size="12.5" fill="#00ffff" font-weight="bold" text-anchor="start" font-family="Liberation Mono" letter-spacing="-0.5">%LEL</text>
<rect x="1520" y="168" width="58" height="16" fill="#f4f4f0" />
<text x="1549" y="179.5" font-size="12" fill="#000" font-weight="bold" text-anchor="middle" font-family="Liberation Mono" letter-spacing="-0.1">GT101</text>
<rect x="1489" y="322" width="93" height="67" fill="none" stroke="#e81818" stroke-width="1.2" stroke-dasharray="3.5,2.5"/>
<text x="1514" y="351.8" font-size="12.5" fill="#00ff00" font-weight="bold" text-anchor="start" font-family="Liberation Mono" letter-spacing="-0.5">0.00</text>
<text x="1547" y="351.8" font-size="12.5" fill="#00ffff" font-weight="bold" text-anchor="start" font-family="Liberation Mono" letter-spacing="-0.5">%LEL</text>
<rect x="1508" y="357" width="58" height="16" fill="#f4f4f0" />
<text x="1537" y="368.5" font-size="12" fill="#000" font-weight="bold" text-anchor="middle" font-family="Liberation Mono" letter-spacing="-0.1">GT1301</text>
<rect x="1490" y="707" width="93" height="67" fill="none" stroke="#e81818" stroke-width="1.2" stroke-dasharray="3.5,2.5"/>
<text x="1513" y="734.8" font-size="12.5" fill="#00ff00" font-weight="bold" text-anchor="start" font-family="Liberation Mono" letter-spacing="-0.5">0.00</text>
<text x="1545" y="734.8" font-size="12.5" fill="#00ffff" font-weight="bold" text-anchor="start" font-family="Liberation Mono" letter-spacing="-0.5">%LEL</text>
<rect x="1506" y="741" width="58" height="16" fill="#f4f4f0" />
<text x="1535" y="752.5" font-size="12" fill="#000" font-weight="bold" text-anchor="middle" font-family="Liberation Mono" letter-spacing="-0.1">GT0201</text>
<path d="M896 299 A28.5 14 0 0 0 896 327 Z" fill="#ccc8c0"/>
<path d="M1028 299 A32 14 0 0 1 1028 327 Z" fill="#ccc8c0"/>
<rect x="898" y="299" width="128" height="28" fill="#ccc8c0" />
<text x="950" y="319.5" font-size="17" fill="#222" font-weight="normal" text-anchor="middle" font-family="Liberation Sans" >分离器2</text>
<rect x="920" y="328.5" width="8" height="9" fill="#ccc8c0" />
<rect x="1000" y="328.5" width="8" height="9" fill="#ccc8c0" />
<rect x="895.5" y="337.5" width="145.5" height="8.5" fill="#ccc8c0" />
<path d="M895 337.5 L886 338 Q880 341.5 886 346 L895 346 Z" fill="#ccc8c0"/>
<path d="M1041 337.5 L1041 346 L1045 346 Z" fill="#ccc8c0"/>
<line x1="917" y1="240" x2="917" y2="299" stroke="#ff0000" stroke-width="1.5"/>
<polygon points="917,229 910,241 924,241" fill="#ff0000"/>
<polygon points="911.5,256 922.5,256 917,261" fill="#d0ccc4"/>
<polygon points="911.5,266 922.5,266 917,261" fill="#d0ccc4"/>
<polygon points="909,272.5 925,272.5 917,280.5" fill="#d0ccc4"/>
<polygon points="909,288.5 925,288.5 917,280.5" fill="#d0ccc4"/>
<line x1="908" y1="280.5" x2="926" y2="280.5" stroke="#f0f0f0" stroke-width="1"/>
<text x="919" y="219.5" font-size="16" fill="#ffffff" font-weight="normal" text-anchor="middle" font-family="Liberation Sans" >放空</text>
<polygon points="960,228 976,228 968,243" fill="#00ff00"/>
<line x1="968" y1="241" x2="968" y2="297" stroke="#00ff00" stroke-width="3"/>
<polygon points="959,257.5 977,257.5 968,270" fill="#d0ccc4"/>
<polygon points="959,282.5 977,282.5 968,270" fill="#d0ccc4"/>
<line x1="958" y1="270" x2="978" y2="270" stroke="#f0f0f0" stroke-width="1"/>
<text x="970" y="219.5" font-size="16" fill="#ffffff" font-weight="normal" text-anchor="middle" font-family="Liberation Sans" >注水口</text>
<polyline points="1016,299 1016,230 1113.5,230 1113.5,500" fill="none" stroke="#ffff00" stroke-width="3" stroke-linejoin="miter" />
<polygon points="1007,252.5 1025,252.5 1016,265" fill="#d0ccc4"/>
<polygon points="1007,277.5 1025,277.5 1016,265" fill="#d0ccc4"/>
<line x1="1006" y1="265" x2="1026" y2="265" stroke="#f0f0f0" stroke-width="1"/>
<polygon points="1105.5,317 1121.5,317 1113.5,327" fill="#d0ccc4"/>
<polygon points="1105.5,337 1121.5,337 1113.5,327" fill="#d0ccc4"/>
<line x1="1104.5" y1="327" x2="1122.5" y2="327" stroke="#f0f0f0" stroke-width="1"/>
<line x1="1126" y1="316" x2="1126" y2="338" stroke="#c8c8c8" stroke-width="1.2"/>
<line x1="1113" y1="327" x2="1126" y2="327" stroke="#c8c8c8" stroke-width="1"/>
<polyline points="888.5,346 888.5,385 1003,385" fill="none" stroke="#ff8000" stroke-width="1.5" stroke-linejoin="miter" />
<polyline points="888.5,364 987.5,364 987.5,385" fill="none" stroke="#ff8000" stroke-width="1.5" stroke-linejoin="miter" />
<polygon points="902,358 902,370 909.5,364" fill="#d0ccc4"/>
<polygon points="917,358 917,370 909.5,364" fill="#d0ccc4"/>
<line x1="909.5" y1="358" x2="909.5" y2="371" stroke="#f0f0f0" stroke-width="1"/>
<rect x="927" y="355" width="24" height="15" fill="#f4f4f4" />
<rect x="930" y="362" width="1.5" height="6" fill="#000" />
<rect x="933.4" y="362" width="1.5" height="6" fill="#000" />
<rect x="936.8" y="362" width="1.5" height="6" fill="#000" />
<rect x="940.2" y="362" width="1.5" height="6" fill="#000" />
<rect x="943.6" y="362" width="1.5" height="6" fill="#000" />
<rect x="947" y="362" width="1.5" height="6" fill="#000" />
<line x1="928" y1="358.5" x2="950" y2="358.5" stroke="#000" stroke-width="1"/>
<polygon points="963.5,358 963.5,370 971,364" fill="#d0ccc4"/>
<polygon points="978.5,358 978.5,370 971,364" fill="#d0ccc4"/>
<line x1="971" y1="364" x2="971" y2="352" stroke="#d0ccc4" stroke-width="1"/>
<line x1="963" y1="352" x2="979" y2="352" stroke="#d0ccc4" stroke-width="1"/>
<polygon points="915.5,379 915.5,391 923,385" fill="#d0ccc4"/>
<polygon points="930.5,379 930.5,391 923,385" fill="#d0ccc4"/>
<line x1="923" y1="379" x2="923" y2="392" stroke="#f0f0f0" stroke-width="1"/>
<polygon points="954.5,379 954.5,391 962,385" fill="#d0ccc4"/>
<polygon points="969.5,379 969.5,391 962,385" fill="#d0ccc4"/>
<line x1="962" y1="385" x2="962" y2="373" stroke="#d0ccc4" stroke-width="1"/>
<line x1="954" y1="373" x2="970" y2="373" stroke="#d0ccc4" stroke-width="1"/>
<polygon points="1003,377.5 1003,393.5 1013,389 1013,382" fill="#c8c8c8"/>
<polygon points="1038,377.5 1038,393.5 1028,389 1028,382" fill="#c8c8c8"/>
<circle cx="1020.5" cy="385.5" r="7.5" fill="#c8c8c8" />
<line x1="1020.5" y1="368" x2="1020.5" y2="378" stroke="#c8c8c8" stroke-width="1"/>
<circle cx="1020" cy="357" r="11" fill="#e01010" />
<text x="1020" y="363" font-size="16" fill="#000" font-weight="normal" text-anchor="middle" font-family="Liberation Serif" transform="translate(1020,0) scale(0.55,1) translate(-1020,0)">M</text>
<line x1="1038" y1="385" x2="1058" y2="385" stroke="#ff8000" stroke-width="1.5"/>
<polygon points="1069,385 1057,378 1057,392" fill="#ff8000"/>
<text x="1043" y="408.5" font-size="16" fill="#ffffff" font-weight="normal" text-anchor="start" font-family="Liberation Sans" >去油罐</text>
<text x="905" y="408.8" font-size="12.5" fill="#00ff00" font-weight="bold" text-anchor="start" font-family="Liberation Mono" letter-spacing="-0.5">0.03</text>
<text x="940" y="408.8" font-size="12.5" fill="#00ffff" font-weight="bold" text-anchor="start" font-family="Liberation Mono" letter-spacing="-0.5">MPa</text>
<rect x="898" y="414" width="57" height="16" fill="#f4f4f0" />
<text x="926.5" y="425.5" font-size="12" fill="#000" font-weight="bold" text-anchor="middle" font-family="Liberation Mono" letter-spacing="-0.1">PT0202</text>
<text x="930" y="453" font-size="18.5" fill="#ff0000" font-weight="bold" text-anchor="middle" font-family="Liberation Sans" xml:space="preserve">停  用</text>
<text x="812" y="335.8" font-size="12.5" fill="#00ff00" font-weight="bold" text-anchor="start" font-family="Liberation Mono" letter-spacing="-0.5">0.00</text>
<text x="851" y="335.8" font-size="12.5" fill="#00ffff" font-weight="bold" text-anchor="start" font-family="Liberation Mono" letter-spacing="-0.5">mm</text>
<rect x="805" y="341" width="57" height="16" fill="#f4f4f0" />
<text x="833.5" y="352.5" font-size="12" fill="#000" font-weight="bold" text-anchor="middle" font-family="Liberation Mono" letter-spacing="-0.1">LT0201</text>
<polyline points="1113.5,381 1168,381 1168,324" fill="none" stroke="#ff0000" stroke-width="1.5" stroke-linejoin="miter" />
<polygon points="1168,311 1161,323 1175,323" fill="#ff0000"/>
<polygon points="1162.5,340 1173.5,340 1168,345" fill="#d0ccc4"/>
<polygon points="1162.5,350 1173.5,350 1168,345" fill="#d0ccc4"/>
<polygon points="1160,354 1176,354 1168,362" fill="#d0ccc4"/>
<polygon points="1160,370 1176,370 1168,362" fill="#d0ccc4"/>
<line x1="1159" y1="362" x2="1177" y2="362" stroke="#f0f0f0" stroke-width="1"/>
<text x="1139" y="364.5" font-size="16" fill="#ffffff" font-weight="normal" text-anchor="middle" font-family="Liberation Sans" >放空</text>
<text x="1218" y="372.8" font-size="12.5" fill="#00ff00" font-weight="bold" text-anchor="start" font-family="Liberation Mono" letter-spacing="-0.5">4.26</text>
<text x="1253" y="372.8" font-size="12.5" fill="#00ffff" font-weight="bold" text-anchor="start" font-family="Liberation Mono" letter-spacing="-0.5">KPa</text>
<rect x="1212" y="377" width="58" height="16" fill="#f4f4f0" />
<text x="1241" y="388.5" font-size="12" fill="#000" font-weight="bold" text-anchor="middle" font-family="Liberation Mono" letter-spacing="-0.1">PDT_0503</text>
<path d="M1294.5 193.75 A22 15.625 0 0 0 1294.5 225 Z" fill="#ccc8c0"/>
<path d="M1411 193.75 A22 15.625 0 0 1 1411 225 Z" fill="#ccc8c0"/>
<rect x="1296.5" y="193.75" width="112.5" height="31.25" fill="#ccc8c0" />
<line x1="1295" y1="193.75" x2="1295" y2="225" stroke="#000" stroke-width="2"/>
<line x1="1410" y1="193.75" x2="1410" y2="225" stroke="#000" stroke-width="2"/>
<text x="1352" y="214.5" font-size="17" fill="#222" font-weight="bold" text-anchor="middle" font-family="Liberation Sans" >50M 水罐</text>
<path d="M1304 282.5 A22 15 0 0 0 1304 312.5 Z" fill="#ccc8c0"/>
<path d="M1420 282.5 A22 15 0 0 1 1420 312.5 Z" fill="#ccc8c0"/>
<rect x="1306" y="282.5" width="112" height="30" fill="#ccc8c0" />
<line x1="1304" y1="282.5" x2="1304" y2="312.5" stroke="#000" stroke-width="2"/>
<line x1="1417" y1="282.5" x2="1417" y2="312.5" stroke="#000" stroke-width="2"/>
<text x="1361" y="304" font-size="17" fill="#222" font-weight="bold" text-anchor="middle" font-family="Liberation Sans" >20M 油罐</text>
<text x="1296" y="165.8" font-size="12.5" fill="#00ff00" font-weight="bold" text-anchor="start" font-family="Liberation Mono" letter-spacing="-0.5">1573.35</text>
<text x="1346" y="165.8" font-size="12.5" fill="#00ffff" font-weight="bold" text-anchor="start" font-family="Liberation Mono" letter-spacing="-0.5">mm</text>
<rect x="1300" y="171" width="58" height="16" fill="#f4f4f0" />
<text x="1329" y="182.5" font-size="12" fill="#000" font-weight="bold" text-anchor="middle" font-family="Liberation Mono" letter-spacing="-0.1">LT1301</text>
<text x="1184" y="258.8" font-size="12.5" fill="#00ff00" font-weight="bold" text-anchor="start" font-family="Liberation Mono" letter-spacing="-0.5">17.49</text>
<text x="1227" y="258.8" font-size="12.5" fill="#00ffff" font-weight="bold" text-anchor="start" font-family="Liberation Mono" letter-spacing="-0.5">℃</text>
<rect x="1181" y="262" width="58" height="16" fill="#f4f4f0" />
<text x="1210" y="273.5" font-size="12" fill="#000" font-weight="bold" text-anchor="middle" font-family="Liberation Mono" letter-spacing="-0.1">TT101</text>
<text x="1260" y="258.8" font-size="12.5" fill="#00ff00" font-weight="bold" text-anchor="start" font-family="Liberation Mono" letter-spacing="-0.5">0.00</text>
<text x="1294" y="258.8" font-size="12.5" fill="#00ffff" font-weight="bold" text-anchor="start" font-family="Liberation Mono" letter-spacing="-0.5">MPa</text>
<rect x="1253" y="262" width="58" height="16" fill="#f4f4f0" />
<text x="1282" y="273.5" font-size="12" fill="#000" font-weight="bold" text-anchor="middle" font-family="Liberation Mono" letter-spacing="-0.1">PT101</text>
<text x="1322" y="258.8" font-size="12.5" fill="#00ff00" font-weight="bold" text-anchor="start" font-family="Liberation Mono" letter-spacing="-0.5">242.48</text>
<text x="1368" y="258.8" font-size="12.5" fill="#00ffff" font-weight="bold" text-anchor="start" font-family="Liberation Mono" letter-spacing="-0.5">mm</text>
<rect x="1322" y="262" width="58" height="16" fill="#f4f4f0" />
<text x="1351" y="273.5" font-size="12" fill="#000" font-weight="bold" text-anchor="middle" font-family="Liberation Mono" letter-spacing="-0.1">LT101</text>
<polygon points="1157.5,238.5 1172.5,230.5 1172.5,246.5" fill="#8b4a4a"/>
<polyline points="1172,238.5 1300,238.5 1300,225" fill="none" stroke="#ff8000" stroke-width="1.5" stroke-linejoin="miter" />
<polygon points="1193,229.5 1193,247.5 1205.5,238.5" fill="#d0ccc4"/>
<polygon points="1218,229.5 1218,247.5 1205.5,238.5" fill="#d0ccc4"/>
<line x1="1205.5" y1="229.5" x2="1205.5" y2="248.5" stroke="#f0f0f0" stroke-width="1"/>
<polyline points="1231,238.5 1231,209 1272,209" fill="none" stroke="#ff8000" stroke-width="1.5" stroke-linejoin="miter" />
<polygon points="1242,200 1242,218 1254.5,209" fill="#d0ccc4"/>
<polygon points="1267,200 1267,218 1254.5,209" fill="#d0ccc4"/>
<line x1="1254.5" y1="200" x2="1254.5" y2="219" stroke="#f0f0f0" stroke-width="1"/>
<text x="1151" y="223.5" font-size="16" fill="#ffffff" font-weight="normal" text-anchor="start" font-family="Liberation Serif" >去广51</text>
<polyline points="1403,193.75 1403,169.5 1466,169.5 1466,329 1405,329" fill="none" stroke="#ff8000" stroke-width="1.5" stroke-linejoin="miter" />
<polygon points="1423,160.5 1423,178.5 1435.5,169.5" fill="#d0ccc4"/>
<polygon points="1448,160.5 1448,178.5 1435.5,169.5" fill="#d0ccc4"/>
<line x1="1435.5" y1="160.5" x2="1435.5" y2="179.5" stroke="#f0f0f0" stroke-width="1"/>
<polyline points="1405,282.5 1405,270 1501,270" fill="none" stroke="#ff8000" stroke-width="1.5" stroke-linejoin="miter" />
<polygon points="1425.5,261 1425.5,279 1438,270" fill="#d0ccc4"/>
<polygon points="1450.5,261 1450.5,279 1438,270" fill="#d0ccc4"/>
<line x1="1438" y1="261" x2="1438" y2="280" stroke="#f0f0f0" stroke-width="1"/>
<polygon points="1501,270 1515,262 1515,278" fill="#8b4a4a"/>
<text x="1523" y="277.5" font-size="16" fill="#ffffff" font-weight="normal" text-anchor="start" font-family="Liberation Sans" >接各排</text>
<polyline points="1228.75,316 1228.75,297.5 1282,297.5" fill="none" stroke="#ff8000" stroke-width="1.5" stroke-linejoin="miter" />
<polygon points="1243,288.5 1243,306.5 1255.5,297.5" fill="#d0ccc4"/>
<polygon points="1268,288.5 1268,306.5 1255.5,297.5" fill="#d0ccc4"/>
<line x1="1255.5" y1="288.5" x2="1255.5" y2="307.5" stroke="#f0f0f0" stroke-width="1"/>
<polygon points="1416.5,320 1416.5,338 1429,329" fill="#d0ccc4"/>
<polygon points="1441.5,320 1441.5,338 1429,329" fill="#d0ccc4"/>
<line x1="1429" y1="320" x2="1429" y2="339" stroke="#f0f0f0" stroke-width="1"/>
<path d="M1452 334 L1452 325 L1464 325 L1464 334 Z M1454 325 Q1454 318.5 1458 318.5 Q1462 318.5 1462 325" fill="none" stroke="#b06868" stroke-width="2"/>
<path d="M1626 300 A23 20.85 0 0 0 1626 341.7 Z" fill="#ccc8c0"/>
<path d="M1740 300 A23 20.85 0 0 1 1740 341.7 Z" fill="#ccc8c0"/>
<rect x="1628" y="300" width="110" height="41.7" fill="#ccc8c0" />
<line x1="1625.5" y1="300" x2="1625.5" y2="341.7" stroke="#000" stroke-width="2"/>
<line x1="1739.5" y1="300" x2="1739.5" y2="341.7" stroke="#000" stroke-width="2"/>
<text x="1682" y="327.5" font-size="17.5" fill="#222" font-weight="bold" text-anchor="middle" font-family="Liberation Sans" >放空分离罐</text>
<polygon points="1795,185 1809,185 1819,267 1787,267" fill="#c8c8c8"/>
<text x="1803" y="221" font-size="14" fill="#ffffff" font-weight="normal" text-anchor="middle" font-family="Liberation Sans" >放</text>
<text x="1803" y="235" font-size="14" fill="#ffffff" font-weight="normal" text-anchor="middle" font-family="Liberation Sans" >空</text>
<text x="1803" y="249" font-size="14" fill="#ffffff" font-weight="normal" text-anchor="middle" font-family="Liberation Sans" >火</text>
<text x="1803" y="263" font-size="14" fill="#ffffff" font-weight="normal" text-anchor="middle" font-family="Liberation Sans" >炬</text>
<text x="1673" y="199.5" font-size="16" fill="#ffffff" font-weight="normal" text-anchor="start" font-family="Liberation Sans" >低压放空来气</text>
<polygon points="1722,226 1707,218 1707,234" fill="#ff0000"/>
<line x1="1722" y1="226" x2="1790" y2="226" stroke="#ff0000" stroke-width="1.5"/>
<polygon points="1741,217 1741,235 1753.5,226" fill="#d0ccc4"/>
<polygon points="1766,217 1766,235 1753.5,226" fill="#d0ccc4"/>
<line x1="1753.5" y1="217" x2="1753.5" y2="236" stroke="#f0f0f0" stroke-width="1"/>
<polyline points="1713,300 1713,256.5 1786,256.5" fill="none" stroke="#ff0000" stroke-width="1.5" stroke-linejoin="miter" />
<polygon points="1741,247.5 1741,265.5 1753.5,256.5" fill="#d0ccc4"/>
<polygon points="1766,247.5 1766,265.5 1753.5,256.5" fill="#d0ccc4"/>
<line x1="1753.5" y1="247.5" x2="1753.5" y2="266.5" stroke="#f0f0f0" stroke-width="1"/>
<text x="1574" y="237.5" font-size="16" fill="#ffffff" font-weight="normal" text-anchor="start" font-family="Liberation Sans" >放空来气</text>
<polygon points="1633,257 1619,249 1619,265" fill="#ff0000"/>
<polyline points="1633,257 1666,257 1666,300" fill="none" stroke="#ff0000" stroke-width="1.5" stroke-linejoin="miter" />
<polyline points="1636,341.7 1636,380 1851,380" fill="none" stroke="#ff8000" stroke-width="1.5" stroke-linejoin="miter" />
<polygon points="1653,371 1653,389 1665.5,380" fill="#d0ccc4"/>
<polygon points="1678,371 1678,389 1665.5,380" fill="#d0ccc4"/>
<line x1="1665.5" y1="371" x2="1665.5" y2="390" stroke="#f0f0f0" stroke-width="1"/>
<line x1="1693" y1="372" x2="1693" y2="388" stroke="#c07070" stroke-width="2"/>
<line x1="1702" y1="372" x2="1702" y2="388" stroke="#c07070" stroke-width="2"/>
<path d="M1728 395 L1731 378 L1740 378 L1743 395 Z M1732 378 Q1732 372 1735.5 372 Q1739 372 1739 378" fill="none" stroke="#9a9000" stroke-width="2"/>
<line x1="1761" y1="368" x2="1761" y2="392" stroke="#1e8ad6" stroke-width="2.2"/>
<line x1="1779" y1="368" x2="1779" y2="392" stroke="#1e8ad6" stroke-width="2.2"/>
<line x1="1762.5" y1="369" x2="1777.5" y2="391" stroke="#ffffff" stroke-width="2.2"/>
<polygon points="1800,371 1800,389 1812.5,380" fill="#d0ccc4"/>
<polygon points="1825,371 1825,389 1812.5,380" fill="#d0ccc4"/>
<line x1="1812.5" y1="371" x2="1812.5" y2="390" stroke="#f0f0f0" stroke-width="1"/>
<polygon points="1866,380 1851,372 1851,388" fill="#8b4a4a"/>
<path d="M1315 511 C1315 485.65 1323.8 472 1337 472 C1350.2 472 1359 485.65 1359 511 Z" fill="#ccc8c0"/>
<rect x="1315" y="513" width="44" height="243" fill="#ccc8c0" />
<path d="M1315 758 C1315 783.95 1323.8 799 1337 799 C1350.2 799 1359 783.95 1359 758 Z" fill="#ccc8c0"/>
<text x="1337.5" y="615" font-size="16" fill="#111" font-weight="normal" text-anchor="middle" font-family="Liberation Sans" >汇</text>
<text x="1338.5" y="665" font-size="16" fill="#111" font-weight="normal" text-anchor="middle" font-family="Liberation Sans" >1</text>
<polyline points="1113.5,500 1315,500" fill="none" stroke="#ffff00" stroke-width="3" stroke-linejoin="miter" />
<rect x="1232.5" y="490" width="2.5" height="20" fill="#ffffff" />
<rect x="1239.8" y="488" width="2.5" height="24" fill="#ffffff" />
<rect x="1247" y="490" width="2.5" height="20" fill="#ffffff" />
<polygon points="1270,491 1270,509 1282.5,500" fill="#d0ccc4"/>
<polygon points="1295,491 1295,509 1282.5,500" fill="#d0ccc4"/>
<line x1="1282.5" y1="491" x2="1282.5" y2="510" stroke="#f0f0f0" stroke-width="1"/>
<text x="1238" y="534.5" font-size="16" fill="#ffffff" font-weight="bold" text-anchor="middle" font-family="Liberation Sans" >总侧流量计</text>
<text x="1121" y="417.8" font-size="12.5" fill="#00ff00" font-weight="bold" text-anchor="start" font-family="Liberation Mono" letter-spacing="-0.5">0.804</text>
<text x="1160" y="417.8" font-size="12.5" fill="#00ffff" font-weight="bold" text-anchor="start" font-family="Liberation Mono" letter-spacing="-0.5">MPa</text>
<rect x="1120" y="423" width="57" height="16" fill="#f4f4f0" />
<text x="1148.5" y="434.5" font-size="12" fill="#000" font-weight="bold" text-anchor="middle" font-family="Liberation Mono" letter-spacing="-0.1">PT_0503</text>
<text x="1204" y="417.8" font-size="12.5" fill="#00ff00" font-weight="bold" text-anchor="start" font-family="Liberation Mono" letter-spacing="-0.5">15236</text>
<text x="1251" y="417.8" font-size="12.5" fill="#00ffff" font-weight="bold" text-anchor="start" font-family="Liberation Mono" letter-spacing="-0.5">m3/d</text>
<rect x="1212" y="423" width="57" height="16" fill="#f4f4f0" />
<text x="1240.5" y="434.5" font-size="12" fill="#000" font-weight="bold" text-anchor="middle" font-family="Liberation Mono" letter-spacing="-0.1">FT_0503</text>
<text x="1310" y="417.8" font-size="12.5" fill="#00ff00" font-weight="bold" text-anchor="start" font-family="Liberation Mono" letter-spacing="-0.5">10.1</text>
<text x="1349" y="417.8" font-size="12.5" fill="#00ffff" font-weight="bold" text-anchor="start" font-family="Liberation Mono" letter-spacing="-0.5">℃</text>
<rect x="1304" y="423" width="57" height="16" fill="#f4f4f0" />
<text x="1332.5" y="434.5" font-size="12" fill="#000" font-weight="bold" text-anchor="middle" font-family="Liberation Mono" letter-spacing="-0.1">TT_0503</text>
<polyline points="1150.5,439 1150.5,451 1229,451" fill="none" stroke="#00d8f8" stroke-width="1.5" stroke-linejoin="miter" />
<line x1="1240.8" y1="439" x2="1240.8" y2="488" stroke="#00d8f8" stroke-width="1.5"/>
<polyline points="1329.7,439 1329.7,451 1252.8,451" fill="none" stroke="#00d8f8" stroke-width="1.5" stroke-linejoin="miter" />
<line x1="1359" y1="525" x2="1848" y2="525" stroke="#ffff00" stroke-width="3"/>
<polygon points="1865,525 1848,515 1848,535" fill="#ffff00"/>
<polyline points="1415.5,525 1415.5,458 1691,458 1691,525" fill="none" stroke="#ffff00" stroke-width="3" stroke-linejoin="miter" />
<polygon points="1542,449 1542,467 1554.5,458" fill="#d0ccc4"/>
<polygon points="1567,449 1567,467 1554.5,458" fill="#d0ccc4"/>
<line x1="1554.5" y1="449" x2="1554.5" y2="468" stroke="#f0f0f0" stroke-width="1"/>
<polygon points="1475.5,516 1475.5,534 1488,525" fill="#d0ccc4"/>
<polygon points="1500.5,516 1500.5,534 1488,525" fill="#d0ccc4"/>
<line x1="1488" y1="516" x2="1488" y2="535" stroke="#f0f0f0" stroke-width="1"/>
<line x1="1359" y1="632" x2="1848" y2="632" stroke="#ffff00" stroke-width="3"/>
<polygon points="1865,632 1848,622 1848,642" fill="#ffff00"/>
<polyline points="1415.5,632 1415.5,565 1691,565 1691,632" fill="none" stroke="#ffff00" stroke-width="3" stroke-linejoin="miter" />
<polygon points="1544.5,556 1544.5,574 1557,565" fill="#d0ccc4"/>
<polygon points="1569.5,556 1569.5,574 1557,565" fill="#d0ccc4"/>
<line x1="1557" y1="556" x2="1557" y2="575" stroke="#f0f0f0" stroke-width="1"/>
<polygon points="1477.5,623 1477.5,641 1490,632" fill="#d0ccc4"/>
<polygon points="1502.5,623 1502.5,641 1490,632" fill="#d0ccc4"/>
<line x1="1490" y1="623" x2="1490" y2="642" stroke="#f0f0f0" stroke-width="1"/>
<polygon points="1616.5,623 1616.5,641 1629,632" fill="#d0ccc4"/>
<polygon points="1641.5,623 1641.5,641 1629,632" fill="#d0ccc4"/>
<line x1="1629" y1="623" x2="1629" y2="642" stroke="#f0f0f0" stroke-width="1"/>
<polygon points="1371.5,516 1371.5,534 1384,525" fill="#d0ccc4"/>
<polygon points="1396.5,516 1396.5,534 1384,525" fill="#d0ccc4"/>
<line x1="1384" y1="516" x2="1384" y2="535" stroke="#f0f0f0" stroke-width="1"/>
<circle cx="1555" cy="525" r="11" fill="#c8c8c8" />
<line x1="1548" y1="532" x2="1557" y2="517" stroke="#555" stroke-width="1.5"/>
<line x1="1553" y1="535" x2="1562" y2="520" stroke="#555" stroke-width="1.5"/>
<polygon points="1626.5,516 1626.5,534 1639,525" fill="#d0ccc4"/>
<polygon points="1651.5,516 1651.5,534 1639,525" fill="#d0ccc4"/>
<line x1="1639" y1="525" x2="1639" y2="512" stroke="#c8c8c8" stroke-width="1.5"/>
<path d="M1628 513 Q1639 500 1650 513 Z" fill="#c8c8c8"/>
<line x1="1749" y1="525" x2="1749" y2="463.5" stroke="#ff0000" stroke-width="1.3"/>
<polygon points="1749,453.5 1742.5,464.5 1755.5,464.5" fill="#ff0000"/>
<line x1="1749" y1="476" x2="1772.5" y2="476" stroke="#ff0000" stroke-width="1.3"/>
<rect x="1744" y="477.5" width="10" height="16" fill="#000" />
<polygon points="1744,479.5 1754,479.5 1749,484.5" fill="#c8c8c8"/>
<polygon points="1744,491.5 1754,491.5 1749,486.5" fill="#c8c8c8"/>
<polygon points="1743,497.5 1755,497.5 1749,505.5" fill="#d0ccc4"/>
<polygon points="1743,513.5 1755,513.5 1749,505.5" fill="#d0ccc4"/>
<line x1="1742" y1="505.5" x2="1756" y2="505.5" stroke="#f0f0f0" stroke-width="1"/>
<line x1="1783.5" y1="525" x2="1783.5" y2="467.5" stroke="#ff0000" stroke-width="1.3"/>
<rect x="1778.5" y="477.5" width="10" height="10" fill="#000" />
<line x1="1776.5" y1="467.5" x2="1787.5" y2="467.5" stroke="#ff0000" stroke-width="1.3"/>
<line x1="1776.5" y1="470" x2="1787.5" y2="470" stroke="#ff0000" stroke-width="1.3"/>
<polygon points="1772.5,471.5 1772.5,479.5 1780.5,475.5" fill="#c8c8c8"/>
<polygon points="1779,486.5 1788,486.5 1783.5,478" fill="#c8c8c8"/>
<polygon points="1777.5,493.5 1789.5,493.5 1783.5,501.5" fill="#d0ccc4"/>
<polygon points="1777.5,509.5 1789.5,509.5 1783.5,501.5" fill="#d0ccc4"/>
<line x1="1776.5" y1="501.5" x2="1790.5" y2="501.5" stroke="#f0f0f0" stroke-width="1"/>
<text x="1748" y="448.5" font-size="16" fill="#ffffff" font-weight="normal" text-anchor="middle" font-family="Liberation Sans" >放空</text>
<line x1="1749" y1="632" x2="1749" y2="567.5" stroke="#ff0000" stroke-width="1.3"/>
<polygon points="1749,557.5 1742.5,568.5 1755.5,568.5" fill="#ff0000"/>
<line x1="1749" y1="580" x2="1772.5" y2="580" stroke="#ff0000" stroke-width="1.3"/>
<rect x="1744" y="581.5" width="10" height="16" fill="#000" />
<polygon points="1744,583.5 1754,583.5 1749,588.5" fill="#c8c8c8"/>
<polygon points="1744,595.5 1754,595.5 1749,590.5" fill="#c8c8c8"/>
<polygon points="1743,601.5 1755,601.5 1749,609.5" fill="#d0ccc4"/>
<polygon points="1743,617.5 1755,617.5 1749,609.5" fill="#d0ccc4"/>
<line x1="1742" y1="609.5" x2="1756" y2="609.5" stroke="#f0f0f0" stroke-width="1"/>
<line x1="1783.5" y1="632" x2="1783.5" y2="571.5" stroke="#ff0000" stroke-width="1.3"/>
<rect x="1778.5" y="581.5" width="10" height="10" fill="#000" />
<line x1="1776.5" y1="571.5" x2="1787.5" y2="571.5" stroke="#ff0000" stroke-width="1.3"/>
<line x1="1776.5" y1="574" x2="1787.5" y2="574" stroke="#ff0000" stroke-width="1.3"/>
<polygon points="1772.5,575.5 1772.5,583.5 1780.5,579.5" fill="#c8c8c8"/>
<polygon points="1779,590.5 1788,590.5 1783.5,582" fill="#c8c8c8"/>
<polygon points="1777.5,597.5 1789.5,597.5 1783.5,605.5" fill="#d0ccc4"/>
<polygon points="1777.5,613.5 1789.5,613.5 1783.5,605.5" fill="#d0ccc4"/>
<line x1="1776.5" y1="605.5" x2="1790.5" y2="605.5" stroke="#f0f0f0" stroke-width="1"/>
<text x="1748" y="551.5" font-size="16" fill="#ffffff" font-weight="normal" text-anchor="middle" font-family="Liberation Sans" >放空</text>
<text x="1845" y="513.5" font-size="16" fill="#ffffff" font-weight="normal" text-anchor="middle" font-family="Liberation Sans" >去汇三</text>
<text x="1848" y="661.5" font-size="16" fill="#ffffff" font-weight="normal" text-anchor="middle" font-family="Liberation Sans" >去汇三</text>
<line x1="1359" y1="676.5" x2="1420" y2="676.5" stroke="#00ff00" stroke-width="3"/>
<polygon points="1374.5,667.5 1374.5,685.5 1387,676.5" fill="#d0ccc4"/>
<polygon points="1399.5,667.5 1399.5,685.5 1387,676.5" fill="#d0ccc4"/>
<line x1="1387" y1="667.5" x2="1387" y2="686.5" stroke="#f0f0f0" stroke-width="1"/>
<polygon points="1420,676.5 1435,667.5 1435,685.5" fill="#00ff00"/>
<text x="1447" y="684.5" font-size="16" fill="#ffffff" font-weight="normal" text-anchor="start" font-family="Liberation Sans" >注水口</text>
<line x1="1287" y1="641" x2="1315" y2="641" stroke="#ffff00" stroke-width="3"/>
<polygon points="1263,632 1263,650 1275.5,641" fill="#d0ccc4"/>
<polygon points="1288,632 1288,650 1275.5,641" fill="#d0ccc4"/>
<line x1="1275.5" y1="632" x2="1275.5" y2="651" stroke="#f0f0f0" stroke-width="1"/>
<text x="1133" y="564.8" font-size="12.5" fill="#00ff00" font-weight="bold" text-anchor="start" font-family="Liberation Mono" letter-spacing="-0.5">0.00</text>
<text x="1169" y="564.8" font-size="12.5" fill="#00ffff" font-weight="bold" text-anchor="start" font-family="Liberation Mono" letter-spacing="-0.5">KPa</text>
<rect x="1128" y="570" width="58" height="16" fill="#f4f4f0" />
<text x="1157" y="581.5" font-size="12" fill="#000" font-weight="bold" text-anchor="middle" font-family="Liberation Mono" letter-spacing="-0.1">PDT_0501</text>
<text x="1037" y="610.8" font-size="12.5" fill="#00ff00" font-weight="bold" text-anchor="start" font-family="Liberation Mono" letter-spacing="-0.5">0.000</text>
<text x="1074" y="610.8" font-size="12.5" fill="#00ffff" font-weight="bold" text-anchor="start" font-family="Liberation Mono" letter-spacing="-0.5">MPa</text>
<rect x="1036" y="616" width="57" height="16" fill="#f4f4f0" />
<text x="1064.5" y="627.5" font-size="12" fill="#000" font-weight="bold" text-anchor="middle" font-family="Liberation Mono" letter-spacing="-0.1">PT_0501</text>
<text x="1133" y="610.8" font-size="12.5" fill="#00ff00" font-weight="bold" text-anchor="start" font-family="Liberation Mono" letter-spacing="-0.5">0</text>
<text x="1166" y="610.8" font-size="12.5" fill="#00ffff" font-weight="bold" text-anchor="start" font-family="Liberation Mono" letter-spacing="-0.5">m3/d</text>
<rect x="1128" y="616" width="57" height="16" fill="#f4f4f0" />
<text x="1156.5" y="627.5" font-size="12" fill="#000" font-weight="bold" text-anchor="middle" font-family="Liberation Mono" letter-spacing="-0.1">FT_0501</text>
<text x="1229" y="610.8" font-size="12.5" fill="#00ff00" font-weight="bold" text-anchor="start" font-family="Liberation Mono" letter-spacing="-0.5">7.2</text>
<text x="1265" y="610.8" font-size="12.5" fill="#00ffff" font-weight="bold" text-anchor="start" font-family="Liberation Mono" letter-spacing="-0.5">℃</text>
<rect x="1220" y="616" width="58" height="16" fill="#f4f4f0" />
<text x="1249" y="627.5" font-size="12" fill="#000" font-weight="bold" text-anchor="middle" font-family="Liberation Mono" letter-spacing="-0.1">TT_0501</text>
<polyline points="1066,632 1066,644 1143,644" fill="none" stroke="#00d8f8" stroke-width="1.5" stroke-linejoin="miter" />
<line x1="1156" y1="632" x2="1156" y2="690" stroke="#00d8f8" stroke-width="1.5"/>
<polyline points="1245,632 1245,644 1169,644" fill="none" stroke="#00d8f8" stroke-width="1.5" stroke-linejoin="miter" />
<polyline points="1038.5,763 1038.5,693 1315,693" fill="none" stroke="#ffff00" stroke-width="3" stroke-linejoin="miter" />
<polygon points="1076.5,684 1076.5,702 1087.5,696.5 1087.5,689.5" fill="#00ff00"/>
<polygon points="1112.5,684 1112.5,702 1101.5,696.5 1101.5,689.5" fill="#00ff00"/>
<circle cx="1094.5" cy="693" r="8" fill="#00ff00" />
<line x1="1094" y1="675" x2="1094" y2="685" stroke="#c8c8c8" stroke-width="1"/>
<circle cx="1094" cy="665" r="10" fill="#c8c8c8" />
<text x="1094" y="671" font-size="16" fill="#111" font-weight="normal" text-anchor="middle" font-family="Liberation Serif" transform="translate(1094,0) scale(0.55,1) translate(-1094,0)">M</text>
<text x="1069" y="665" font-size="12" fill="#ff0000" font-weight="normal" text-anchor="middle" font-family="Liberation Sans" >就地</text>
<text x="1069" y="680" font-size="12" fill="#ff0000" font-weight="normal" text-anchor="middle" font-family="Liberation Sans" >旁路</text>
<text x="1094.5" y="718" font-size="11" fill="#ffffff" font-weight="normal" text-anchor="middle" font-family="Liberation Serif" >XV_0202</text>
<rect x="1148" y="683" width="2.5" height="20" fill="#ffffff" />
<rect x="1155.3" y="681" width="2.5" height="24" fill="#ffffff" />
<rect x="1162.5" y="683" width="2.5" height="20" fill="#ffffff" />
<polygon points="1216.1,684 1216.1,702 1228.6,693" fill="#d0ccc4"/>
<polygon points="1241.1,684 1241.1,702 1228.6,693" fill="#d0ccc4"/>
<line x1="1228.6" y1="693" x2="1228.6" y2="678" stroke="#d0ccc4" stroke-width="1"/>
<line x1="1220.6" y1="678" x2="1236.6" y2="678" stroke="#d0ccc4" stroke-width="1"/>
<polygon points="1264.5,684 1264.5,702 1277,693" fill="#d0ccc4"/>
<polygon points="1289.5,684 1289.5,702 1277,693" fill="#d0ccc4"/>
<line x1="1277" y1="684" x2="1277" y2="703" stroke="#f0f0f0" stroke-width="1"/>
<text x="1163" y="722.5" font-size="16" fill="#ffffff" font-weight="bold" text-anchor="middle" font-family="Liberation Sans" >分侧流量计</text>
<text x="1221" y="732.5" font-size="16" fill="#ffffff" font-weight="normal" text-anchor="middle" font-family="Liberation Sans" >放空</text>
<line x1="1258" y1="726" x2="1315" y2="726" stroke="#ff0000" stroke-width="1.5"/>
<polygon points="1245,726 1258,718.5 1258,733.5" fill="#ff0000"/>
<polygon points="1271.5,720.5 1271.5,731.5 1277,726" fill="#d0ccc4"/>
<polygon points="1282.5,720.5 1282.5,731.5 1277,726" fill="#d0ccc4"/>
<polygon points="1288.7,719 1288.7,733 1296.7,726" fill="#d0ccc4"/>
<polygon points="1304.7,719 1304.7,733 1296.7,726" fill="#d0ccc4"/>
<line x1="1296.7" y1="719" x2="1296.7" y2="734" stroke="#f0f0f0" stroke-width="1"/>
<polyline points="1359,711 1402,711 1402,778" fill="none" stroke="#ff8000" stroke-width="1.5" stroke-linejoin="miter" />
<polygon points="1395,722 1409,722 1402,730" fill="#d0ccc4"/>
<polygon points="1395,738 1409,738 1402,730" fill="#d0ccc4"/>
<line x1="1394" y1="730" x2="1410" y2="730" stroke="#f0f0f0" stroke-width="1"/>
<polygon points="1389.5,748.5 1414.5,748.5 1402,757.5" fill="#d0ccc4"/>
<polygon points="1389.5,766.5 1414.5,766.5 1402,757.5" fill="#d0ccc4"/>
<polygon points="1402,790 1396,778 1408,778" fill="#ff8000"/>
<text x="1423" y="747.5" font-size="16" fill="#1e8ad6" font-weight="bold" text-anchor="middle" font-family="Liberation Sans" >去</text>
<text x="1423" y="775.5" font-size="16" fill="#1e8ad6" font-weight="bold" text-anchor="middle" font-family="Liberation Sans" >油</text>
<text x="1423" y="803.5" font-size="16" fill="#1e8ad6" font-weight="bold" text-anchor="middle" font-family="Liberation Sans" >罐</text>
<polyline points="1150,937 1150,765 1315,765" fill="none" stroke="#ffff00" stroke-width="3" stroke-linejoin="miter" />
<polygon points="1178,756 1178,774 1190.5,765" fill="#d0ccc4"/>
<polygon points="1203,756 1203,774 1190.5,765" fill="#d0ccc4"/>
<line x1="1190.5" y1="765" x2="1190.5" y2="750" stroke="#d0ccc4" stroke-width="1"/>
<line x1="1182.5" y1="750" x2="1198.5" y2="750" stroke="#d0ccc4" stroke-width="1"/>
<polygon points="1262.8,756 1262.8,774 1275.3,765" fill="#d0ccc4"/>
<polygon points="1287.8,756 1287.8,774 1275.3,765" fill="#d0ccc4"/>
<line x1="1275.3" y1="756" x2="1275.3" y2="775" stroke="#f0f0f0" stroke-width="1"/>
<polygon points="1141,809.5 1159,809.5 1150,822" fill="#d0ccc4"/>
<polygon points="1141,834.5 1159,834.5 1150,822" fill="#d0ccc4"/>
<line x1="1140" y1="822" x2="1160" y2="822" stroke="#f0f0f0" stroke-width="1"/>
<rect x="1140" y="866.5" width="25" height="2.5" fill="#ffffff" />
<rect x="1140" y="873.2" width="46" height="2.5" fill="#ffffff" />
<rect x="1140" y="881" width="25" height="2.5" fill="#ffffff" />
<text x="1253" y="790.8" font-size="12.5" fill="#00ff00" font-weight="bold" text-anchor="start" font-family="Liberation Mono" letter-spacing="-0.5">0.00</text>
<text x="1288" y="790.8" font-size="12.5" fill="#00ffff" font-weight="bold" text-anchor="start" font-family="Liberation Mono" letter-spacing="-0.5">KPa</text>
<rect x="1247" y="795" width="58" height="16" fill="#f4f4f0" />
<text x="1276" y="806.5" font-size="12" fill="#000" font-weight="bold" text-anchor="middle" font-family="Liberation Mono" letter-spacing="-0.1">PDT_0502</text>
<text x="1157" y="836.8" font-size="12.5" fill="#00ff00" font-weight="bold" text-anchor="start" font-family="Liberation Mono" letter-spacing="-0.5">0.818</text>
<text x="1195" y="836.8" font-size="12.5" fill="#00ffff" font-weight="bold" text-anchor="start" font-family="Liberation Mono" letter-spacing="-0.5">MPa</text>
<rect x="1155" y="841" width="58" height="16" fill="#f4f4f0" />
<text x="1184" y="852.5" font-size="12" fill="#000" font-weight="bold" text-anchor="middle" font-family="Liberation Mono" letter-spacing="-0.1">PT_0502</text>
<text x="1253" y="836.8" font-size="12.5" fill="#00ff00" font-weight="bold" text-anchor="start" font-family="Liberation Mono" letter-spacing="-0.5">0</text>
<text x="1286" y="836.8" font-size="12.5" fill="#00ffff" font-weight="bold" text-anchor="start" font-family="Liberation Mono" letter-spacing="-0.5">m3/d</text>
<rect x="1248" y="843" width="58" height="16" fill="#f4f4f0" />
<text x="1277" y="854.5" font-size="12" fill="#000" font-weight="bold" text-anchor="middle" font-family="Liberation Mono" letter-spacing="-0.1">FT_0502</text>
<text x="1345" y="836.8" font-size="12.5" fill="#00ff00" font-weight="bold" text-anchor="start" font-family="Liberation Mono" letter-spacing="-0.5">11.3</text>
<text x="1385" y="836.8" font-size="12.5" fill="#00ffff" font-weight="bold" text-anchor="start" font-family="Liberation Mono" letter-spacing="-0.5">℃</text>
<rect x="1339" y="841" width="58" height="16" fill="#f4f4f0" />
<text x="1368" y="852.5" font-size="12" fill="#000" font-weight="bold" text-anchor="middle" font-family="Liberation Mono" letter-spacing="-0.1">TT_0502</text>
<polyline points="1185.5,857 1185.5,869 1264,869" fill="none" stroke="#00d8f8" stroke-width="1.5" stroke-linejoin="miter" />
<polyline points="1275,859 1275,874.4 1165,874.4" fill="none" stroke="#00d8f8" stroke-width="1.5" stroke-linejoin="miter" />
<polyline points="1364.7,857 1364.7,869 1288,869" fill="none" stroke="#00d8f8" stroke-width="1.5" stroke-linejoin="miter" />
<polygon points="1141,892 1159,892 1153.5,903 1146.5,903" fill="#00ff00"/>
<polygon points="1141,928 1159,928 1153.5,917 1146.5,917" fill="#00ff00"/>
<circle cx="1150" cy="910" r="8" fill="#00ff00" />
<line x1="1131" y1="910" x2="1142" y2="910" stroke="#c8c8c8" stroke-width="1"/>
<circle cx="1121" cy="910" r="10" fill="#c8c8c8" />
<text x="1121" y="916" font-size="16" fill="#111" font-weight="normal" text-anchor="middle" font-family="Liberation Serif" transform="translate(1121,0) scale(0.55,1) translate(-1121,0)">M</text>
<text x="1115" y="880" font-size="12" fill="#ff0000" font-weight="normal" text-anchor="middle" font-family="Liberation Sans" >就地</text>
<text x="1115" y="895" font-size="12" fill="#ff0000" font-weight="normal" text-anchor="middle" font-family="Liberation Sans" >旁路</text>
<text x="1162" y="912" font-size="11" fill="#ffffff" font-weight="normal" text-anchor="start" font-family="Liberation Serif" >XV_0102</text>
<line x1="997" y1="937" x2="1535" y2="937" stroke="#ffff00" stroke-width="3"/>
<polygon points="979,937 997,926 997,948" fill="#ffff00"/>
<polygon points="1535,937 1551,927 1551,947" fill="#ffff00"/>
<polygon points="1357.5,928 1357.5,946 1370,937" fill="#d0ccc4"/>
<polygon points="1382.5,928 1382.5,946 1370,937" fill="#d0ccc4"/>
<line x1="1370" y1="928" x2="1370" y2="947" stroke="#f0f0f0" stroke-width="1"/>
<rect x="1085" y="941" width="57" height="16" fill="#f4f4f0" />
<text x="1113.5" y="952.5" font-size="12" fill="#000" font-weight="bold" text-anchor="middle" font-family="Liberation Mono" letter-spacing="-0.1">PT0101</text>
<text x="1091" y="974.8" font-size="12.5" fill="#00ff00" font-weight="bold" text-anchor="start" font-family="Liberation Mono" letter-spacing="-0.5">0.83</text>
<text x="1126" y="974.8" font-size="12.5" fill="#00ffff" font-weight="bold" text-anchor="start" font-family="Liberation Mono" letter-spacing="-0.5">MPa</text>
<text x="1558" y="941.5" font-size="16" fill="#ffffff" font-weight="bold" text-anchor="start" font-family="Liberation Serif" >D273干线</text>
<line x1="1470.8" y1="880" x2="1470.8" y2="937" stroke="#ff0000" stroke-width="1.5"/>
<polygon points="1470.8,866 1463.8,879 1477.8,879" fill="#ff0000"/>
<polygon points="1464.8,892.5 1476.8,892.5 1470.8,897.5" fill="#d0ccc4"/>
<polygon points="1464.8,902.5 1476.8,902.5 1470.8,897.5" fill="#d0ccc4"/>
<polygon points="1462.8,908.5 1478.8,908.5 1470.8,916.5" fill="#d0ccc4"/>
<polygon points="1462.8,924.5 1478.8,924.5 1470.8,916.5" fill="#d0ccc4"/>
<line x1="1461.8" y1="916.5" x2="1479.8" y2="916.5" stroke="#f0f0f0" stroke-width="1"/>
<text x="1470" y="860.5" font-size="16" fill="#ffffff" font-weight="normal" text-anchor="middle" font-family="Liberation Sans" >放空</text>
<polygon points="1022,928 1022,946 1033,940.5 1033,933.5" fill="#00ff00"/>
<polygon points="1058,928 1058,946 1047,940.5 1047,933.5" fill="#00ff00"/>
<circle cx="1040" cy="937" r="8" fill="#00ff00" />
<line x1="1040" y1="918" x2="1040" y2="928" stroke="#c8c8c8" stroke-width="1"/>
<circle cx="1040" cy="908" r="10" fill="#c8c8c8" />
<text x="1040" y="914" font-size="16" fill="#111" font-weight="normal" text-anchor="middle" font-family="Liberation Serif" transform="translate(1040,0) scale(0.55,1) translate(-1040,0)">M</text>
<text x="1014" y="910" font-size="12" fill="#ff0000" font-weight="normal" text-anchor="middle" font-family="Liberation Sans" >就地</text>
<text x="1014" y="925" font-size="12" fill="#00ff00" font-weight="normal" text-anchor="middle" font-family="Liberation Sans" >正路</text>
<text x="1040" y="961" font-size="11" fill="#ffffff" font-weight="normal" text-anchor="middle" font-family="Liberation Serif" >XV_0101</text>
<text x="932" y="944.5" font-size="16" fill="#ffffff" font-weight="bold" text-anchor="middle" font-family="Liberation Sans" >去广51井</text>
<path d="M908 763 A28.6 14 0 0 0 908 791 Z" fill="#ccc8c0"/>
<path d="M1040 763 A32 14 0 0 1 1040 791 Z" fill="#ccc8c0"/>
<rect x="910" y="763" width="128" height="28" fill="#ccc8c0" />
<text x="961.5" y="783.5" font-size="17" fill="#222" font-weight="normal" text-anchor="middle" font-family="Liberation Sans" >分离器1</text>
<rect x="932" y="792" width="8" height="9.5" fill="#ccc8c0" />
<rect x="1012" y="792" width="8" height="9.5" fill="#ccc8c0" />
<rect x="908" y="801.5" width="145" height="8.5" fill="#ccc8c0" />
<path d="M908 801.5 L899 802 Q893 805.5 899 810 L908 810 Z" fill="#ccc8c0"/>
<polygon points="921,685 939,685 930,700" fill="#00ff00"/>
<line x1="930" y1="698" x2="930" y2="763" stroke="#00ff00" stroke-width="3"/>
<polygon points="921,713.5 939,713.5 930,726" fill="#d0ccc4"/>
<polygon points="921,738.5 939,738.5 930,726" fill="#d0ccc4"/>
<line x1="920" y1="726" x2="940" y2="726" stroke="#f0f0f0" stroke-width="1"/>
<line x1="974.2" y1="763" x2="974.2" y2="702.6" stroke="#ff0000" stroke-width="1.3"/>
<polygon points="974.2,692.6 967.7,703.6 980.7,703.6" fill="#ff0000"/>
<line x1="974.2" y1="715.1" x2="997.9" y2="715.1" stroke="#ff0000" stroke-width="1.3"/>
<rect x="969.2" y="716.6" width="10" height="16" fill="#000" />
<polygon points="969.2,718.6 979.2,718.6 974.2,723.6" fill="#c8c8c8"/>
<polygon points="969.2,730.6 979.2,730.6 974.2,725.6" fill="#c8c8c8"/>
<polygon points="968.2,736.6 980.2,736.6 974.2,744.6" fill="#d0ccc4"/>
<polygon points="968.2,752.6 980.2,752.6 974.2,744.6" fill="#d0ccc4"/>
<line x1="967.2" y1="744.6" x2="981.2" y2="744.6" stroke="#f0f0f0" stroke-width="1"/>
<line x1="1008.9" y1="763" x2="1008.9" y2="706.6" stroke="#ff0000" stroke-width="1.3"/>
<rect x="1003.9" y="716.6" width="10" height="10" fill="#000" />
<line x1="1001.9" y1="706.6" x2="1012.9" y2="706.6" stroke="#ff0000" stroke-width="1.3"/>
<line x1="1001.9" y1="709.1" x2="1012.9" y2="709.1" stroke="#ff0000" stroke-width="1.3"/>
<polygon points="997.9,710.6 997.9,718.6 1005.9,714.6" fill="#c8c8c8"/>
<polygon points="1004.4,725.6 1013.4,725.6 1008.9,717.1" fill="#c8c8c8"/>
<polygon points="1002.9,732.6 1014.9,732.6 1008.9,740.6" fill="#d0ccc4"/>
<polygon points="1002.9,748.6 1014.9,748.6 1008.9,740.6" fill="#d0ccc4"/>
<line x1="1001.9" y1="740.6" x2="1015.9" y2="740.6" stroke="#f0f0f0" stroke-width="1"/>
<text x="974" y="689.5" font-size="16" fill="#ffffff" font-weight="normal" text-anchor="middle" font-family="Liberation Sans" >放空</text>
<polyline points="902,810 902,850 1013,850" fill="none" stroke="#ff8000" stroke-width="1.5" stroke-linejoin="miter" />
<polyline points="902,830.4 1001.5,830.4 1001.5,850" fill="none" stroke="#ff8000" stroke-width="1.5" stroke-linejoin="miter" />
<polygon points="915.5,824.4 915.5,836.4 923,830.4" fill="#d0ccc4"/>
<polygon points="930.5,824.4 930.5,836.4 923,830.4" fill="#d0ccc4"/>
<line x1="923" y1="824.4" x2="923" y2="837.4" stroke="#f0f0f0" stroke-width="1"/>
<rect x="941" y="820" width="23.5" height="15" fill="#f4f4f4" />
<rect x="944" y="827" width="1.5" height="6" fill="#000" />
<rect x="947.4" y="827" width="1.5" height="6" fill="#000" />
<rect x="950.8" y="827" width="1.5" height="6" fill="#000" />
<rect x="954.2" y="827" width="1.5" height="6" fill="#000" />
<rect x="957.6" y="827" width="1.5" height="6" fill="#000" />
<rect x="961" y="827" width="1.5" height="6" fill="#000" />
<line x1="942" y1="823.5" x2="963" y2="823.5" stroke="#000" stroke-width="1"/>
<polygon points="977.5,824.4 977.5,836.4 985,830.4" fill="#d0ccc4"/>
<polygon points="992.5,824.4 992.5,836.4 985,830.4" fill="#d0ccc4"/>
<line x1="985" y1="830.4" x2="985" y2="818.4" stroke="#d0ccc4" stroke-width="1"/>
<line x1="977" y1="818.4" x2="993" y2="818.4" stroke="#d0ccc4" stroke-width="1"/>
<polygon points="928.8,844 928.8,856 936.3,850" fill="#d0ccc4"/>
<polygon points="943.8,844 943.8,856 936.3,850" fill="#d0ccc4"/>
<line x1="936.3" y1="844" x2="936.3" y2="857" stroke="#f0f0f0" stroke-width="1"/>
<polygon points="968.8,844 968.8,856 976.3,850" fill="#d0ccc4"/>
<polygon points="983.8,844 983.8,856 976.3,850" fill="#d0ccc4"/>
<line x1="976.3" y1="850" x2="976.3" y2="838" stroke="#d0ccc4" stroke-width="1"/>
<line x1="968.3" y1="838" x2="984.3" y2="838" stroke="#d0ccc4" stroke-width="1"/>
<polygon points="1012.5,842 1012.5,858 1022.5,853.5 1022.5,846.5" fill="#c8c8c8"/>
<polygon points="1047.5,842 1047.5,858 1037.5,853.5 1037.5,846.5" fill="#c8c8c8"/>
<circle cx="1030" cy="850" r="7.5" fill="#c8c8c8" />
<line x1="1030" y1="833" x2="1030" y2="842" stroke="#c8c8c8" stroke-width="1"/>
<circle cx="1030" cy="822" r="11" fill="#e01010" />
<text x="1030" y="828" font-size="16" fill="#000" font-weight="normal" text-anchor="middle" font-family="Liberation Serif" transform="translate(1030,0) scale(0.55,1) translate(-1030,0)">M</text>
<line x1="1048" y1="850" x2="1070" y2="850" stroke="#ff8000" stroke-width="1.5"/>
<polygon points="1080,850 1069,843 1069,857" fill="#ff8000"/>
<text x="1077" y="838.5" font-size="16" fill="#ffffff" font-weight="normal" text-anchor="start" font-family="Liberation Sans" >去油罐</text>
<text x="903" y="873.8" font-size="12.5" fill="#00ff00" font-weight="bold" text-anchor="start" font-family="Liberation Mono" letter-spacing="-0.5">0.02</text>
<text x="938" y="873.8" font-size="12.5" fill="#00ffff" font-weight="bold" text-anchor="start" font-family="Liberation Mono" letter-spacing="-0.5">MPa</text>
<rect x="897" y="878.5" width="57" height="16" fill="#f4f4f0" />
<text x="925.5" y="890" font-size="12" fill="#000" font-weight="bold" text-anchor="middle" font-family="Liberation Mono" letter-spacing="-0.1">PT0201</text>
<text x="930" y="913" font-size="18.5" fill="#ff0000" font-weight="bold" text-anchor="middle" font-family="Liberation Sans" xml:space="preserve">停  用</text>
</svg>

<div class="bb a" style="left:6px"><div>仪表参数设置</div></div>
<div class="bb a" style="left:141px"><div>设备状态数据</div></div>
<div class="bb a" style="left:276px"><div>物联数据</div></div>
<div class="bb a" style="left:411px"><div>井站安防</div></div>
<div class="bb a" style="left:546px"><div>计量数据</div></div>
<div class="bb a" style="left:681px"><div>自动控制</div></div>

<div class="a" style="left:1740px;top:937px;width:87px;height:29px;border-radius:3px;background:linear-gradient(#ffffff,#e4e4ee);color:#111;font-size:16px;line-height:29px;text-align:center;padding-right:4px">汇三画面</div>

<div id="tbl" class="a">
<div class="th a" style="left:0;width:300px">点名</div>
<div class="th a" style="left:300px;width:300px">点描述</div>
<div class="th a" style="left:600px;width:200px">报警内容</div>
<div class="th a" style="left:800px;width:200px">报警状态</div>
<div class="th a" style="left:1000px;width:135px">开始时间</div>
<div class="th a" style="left:1135px;width:115px">报警开始值</div>
<div class="th a" style="left:1250px;width:135px">确认时间</div>
<div class="th a" style="left:1385px;width:115px">报警确认值</div>
<div class="th a" style="left:1500px;width:300px">评论内容</div>
<div class="th a" style="left:1800px;width:95px">用户</div>
<div class="th a" style="left:1895px;width:20px;text-align:left;padding-left:4px">报</div>
<div class="a" style="left:0;top:81px;width:1915px;height:17px;background:#fff">
 <div class="a" style="left:2px;top:1px;width:16px;height:15px;border:1px solid #c8c8c8;background:#fff;color:#444;font-size:12px;line-height:13px;text-align:center">&lt;</div>
 <div class="a" style="left:18px;top:1px;width:1841px;height:15px;background:#dadada;border:1px solid #a8a8a8"><div class="a" style="left:913px;top:3px;width:9px;height:8px;border-left:1px solid #555;border-right:1px solid #555"><div class="a" style="left:3px;top:0;width:1px;height:8px;background:#555"></div></div></div>
 <div class="a" style="left:1897px;top:1px;width:16px;height:15px;border:1px solid #c8c8c8;background:#fff;color:#444;font-size:12px;line-height:13px;text-align:center">&gt;</div>
</div>
</div>
<div class="a" style="left:1916px;top:980px;width:4px;height:100px;background:#98a8c0"></div>
</body></html>
